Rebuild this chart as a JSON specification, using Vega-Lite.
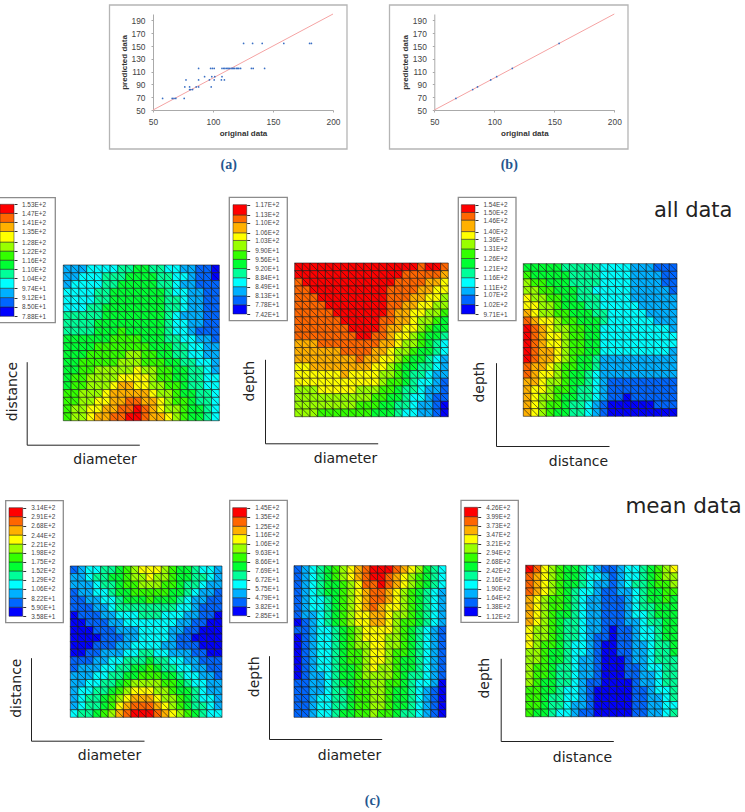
{"$schema":"https://vega.github.io/schema/vega-lite/v6.json","width":745,"height":812,"autosize":"none","padding":0,"background":"white","config":{"view":{"stroke":null},"axis":{"grid":false}},
"datasets":{
"p1":[{"x":0,"y":0,"v":3},{"x":1,"y":0,"v":3},{"x":2,"y":0,"v":3},{"x":3,"y":0,"v":4},{"x":4,"y":0,"v":4},{"x":5,"y":0,"v":4},{"x":6,"y":0,"v":4},{"x":7,"y":0,"v":5},{"x":8,"y":0,"v":5},{"x":9,"y":0,"v":6},{"x":10,"y":0,"v":6},{"x":11,"y":0,"v":5},{"x":12,"y":0,"v":5},{"x":13,"y":0,"v":4},{"x":14,"y":0,"v":4},{"x":15,"y":0,"v":3},{"x":16,"y":0,"v":3},{"x":17,"y":0,"v":2},{"x":18,"y":0,"v":2},{"x":19,"y":0,"v":1},
{"x":0,"y":1,"v":3},{"x":1,"y":1,"v":3},{"x":2,"y":1,"v":4},{"x":3,"y":1,"v":4},{"x":4,"y":1,"v":4},{"x":5,"y":1,"v":5},{"x":6,"y":1,"v":5},{"x":7,"y":1,"v":5},{"x":8,"y":1,"v":6},{"x":9,"y":1,"v":6},{"x":10,"y":1,"v":6},{"x":11,"y":1,"v":6},{"x":12,"y":1,"v":5},{"x":13,"y":1,"v":5},{"x":14,"y":1,"v":4},{"x":15,"y":1,"v":4},{"x":16,"y":1,"v":3},{"x":17,"y":1,"v":2},{"x":18,"y":1,"v":2},{"x":19,"y":1,"v":1},
{"x":0,"y":2,"v":3},{"x":1,"y":2,"v":4},{"x":2,"y":2,"v":4},{"x":3,"y":2,"v":4},{"x":4,"y":2,"v":4},{"x":5,"y":2,"v":5},{"x":6,"y":2,"v":5},{"x":7,"y":2,"v":6},{"x":8,"y":2,"v":6},{"x":9,"y":2,"v":6},{"x":10,"y":2,"v":6},{"x":11,"y":2,"v":6},{"x":12,"y":2,"v":5},{"x":13,"y":2,"v":5},{"x":14,"y":2,"v":4},{"x":15,"y":2,"v":3},{"x":16,"y":2,"v":3},{"x":17,"y":2,"v":2},{"x":18,"y":2,"v":2},{"x":19,"y":2,"v":2},
{"x":0,"y":3,"v":4},{"x":1,"y":3,"v":4},{"x":2,"y":3,"v":4},{"x":3,"y":3,"v":4},{"x":4,"y":3,"v":5},{"x":5,"y":3,"v":5},{"x":6,"y":3,"v":6},{"x":7,"y":3,"v":6},{"x":8,"y":3,"v":6},{"x":9,"y":3,"v":6},{"x":10,"y":3,"v":6},{"x":11,"y":3,"v":6},{"x":12,"y":3,"v":6},{"x":13,"y":3,"v":5},{"x":14,"y":3,"v":4},{"x":15,"y":3,"v":4},{"x":16,"y":3,"v":3},{"x":17,"y":3,"v":3},{"x":18,"y":3,"v":2},{"x":19,"y":3,"v":2},
{"x":0,"y":4,"v":4},{"x":1,"y":4,"v":4},{"x":2,"y":4,"v":4},{"x":3,"y":4,"v":4},{"x":4,"y":4,"v":5},{"x":5,"y":4,"v":5},{"x":6,"y":4,"v":6},{"x":7,"y":4,"v":6},{"x":8,"y":4,"v":6},{"x":9,"y":4,"v":6},{"x":10,"y":4,"v":6},{"x":11,"y":4,"v":6},{"x":12,"y":4,"v":6},{"x":13,"y":4,"v":5},{"x":14,"y":4,"v":5},{"x":15,"y":4,"v":4},{"x":16,"y":4,"v":3},{"x":17,"y":4,"v":3},{"x":18,"y":4,"v":2},{"x":19,"y":4,"v":2},
{"x":0,"y":5,"v":4},{"x":1,"y":5,"v":4},{"x":2,"y":5,"v":4},{"x":3,"y":5,"v":5},{"x":4,"y":5,"v":5},{"x":5,"y":5,"v":6},{"x":6,"y":5,"v":6},{"x":7,"y":5,"v":6},{"x":8,"y":5,"v":6},{"x":9,"y":5,"v":6},{"x":10,"y":5,"v":6},{"x":11,"y":5,"v":6},{"x":12,"y":5,"v":6},{"x":13,"y":5,"v":5},{"x":14,"y":5,"v":5},{"x":15,"y":5,"v":4},{"x":16,"y":5,"v":3},{"x":17,"y":5,"v":3},{"x":18,"y":5,"v":2},{"x":19,"y":5,"v":2},
{"x":0,"y":6,"v":5},{"x":1,"y":6,"v":5},{"x":2,"y":6,"v":5},{"x":3,"y":6,"v":5},{"x":4,"y":6,"v":5},{"x":5,"y":6,"v":6},{"x":6,"y":6,"v":6},{"x":7,"y":6,"v":6},{"x":8,"y":6,"v":6},{"x":9,"y":6,"v":6},{"x":10,"y":6,"v":6},{"x":11,"y":6,"v":6},{"x":12,"y":6,"v":6},{"x":13,"y":6,"v":5},{"x":14,"y":6,"v":4},{"x":15,"y":6,"v":3},{"x":16,"y":6,"v":3},{"x":17,"y":6,"v":3},{"x":18,"y":6,"v":2},{"x":19,"y":6,"v":2},
{"x":0,"y":7,"v":5},{"x":1,"y":7,"v":5},{"x":2,"y":7,"v":5},{"x":3,"y":7,"v":5},{"x":4,"y":7,"v":6},{"x":5,"y":7,"v":6},{"x":6,"y":7,"v":6},{"x":7,"y":7,"v":6},{"x":8,"y":7,"v":6},{"x":9,"y":7,"v":6},{"x":10,"y":7,"v":6},{"x":11,"y":7,"v":6},{"x":12,"y":7,"v":6},{"x":13,"y":7,"v":5},{"x":14,"y":7,"v":4},{"x":15,"y":7,"v":4},{"x":16,"y":7,"v":3},{"x":17,"y":7,"v":3},{"x":18,"y":7,"v":2},{"x":19,"y":7,"v":2},
{"x":0,"y":8,"v":5},{"x":1,"y":8,"v":5},{"x":2,"y":8,"v":5},{"x":3,"y":8,"v":5},{"x":4,"y":8,"v":6},{"x":5,"y":8,"v":6},{"x":6,"y":8,"v":6},{"x":7,"y":8,"v":7},{"x":8,"y":8,"v":6},{"x":9,"y":8,"v":6},{"x":10,"y":8,"v":6},{"x":11,"y":8,"v":6},{"x":12,"y":8,"v":6},{"x":13,"y":8,"v":5},{"x":14,"y":8,"v":4},{"x":15,"y":8,"v":4},{"x":16,"y":8,"v":3},{"x":17,"y":8,"v":2},{"x":18,"y":8,"v":2},{"x":19,"y":8,"v":2},
{"x":0,"y":9,"v":6},{"x":1,"y":9,"v":6},{"x":2,"y":9,"v":6},{"x":3,"y":9,"v":6},{"x":4,"y":9,"v":6},{"x":5,"y":9,"v":6},{"x":6,"y":9,"v":7},{"x":7,"y":9,"v":7},{"x":8,"y":9,"v":7},{"x":9,"y":9,"v":7},{"x":10,"y":9,"v":6},{"x":11,"y":9,"v":6},{"x":12,"y":9,"v":6},{"x":13,"y":9,"v":5},{"x":14,"y":9,"v":5},{"x":15,"y":9,"v":4},{"x":16,"y":9,"v":4},{"x":17,"y":9,"v":3},{"x":18,"y":9,"v":3},{"x":19,"y":9,"v":2},
{"x":0,"y":10,"v":6},{"x":1,"y":10,"v":6},{"x":2,"y":10,"v":6},{"x":3,"y":10,"v":6},{"x":4,"y":10,"v":7},{"x":5,"y":10,"v":7},{"x":6,"y":10,"v":7},{"x":7,"y":10,"v":7},{"x":8,"y":10,"v":7},{"x":9,"y":10,"v":7},{"x":10,"y":10,"v":7},{"x":11,"y":10,"v":6},{"x":12,"y":10,"v":6},{"x":13,"y":10,"v":6},{"x":14,"y":10,"v":5},{"x":15,"y":10,"v":5},{"x":16,"y":10,"v":4},{"x":17,"y":10,"v":4},{"x":18,"y":10,"v":3},{"x":19,"y":10,"v":3},
{"x":0,"y":11,"v":6},{"x":1,"y":11,"v":6},{"x":2,"y":11,"v":6},{"x":3,"y":11,"v":7},{"x":4,"y":11,"v":7},{"x":5,"y":11,"v":7},{"x":6,"y":11,"v":7},{"x":7,"y":11,"v":7},{"x":8,"y":11,"v":8},{"x":9,"y":11,"v":8},{"x":10,"y":11,"v":7},{"x":11,"y":11,"v":7},{"x":12,"y":11,"v":6},{"x":13,"y":11,"v":6},{"x":14,"y":11,"v":5},{"x":15,"y":11,"v":5},{"x":16,"y":11,"v":4},{"x":17,"y":11,"v":4},{"x":18,"y":11,"v":3},{"x":19,"y":11,"v":3},
{"x":0,"y":12,"v":6},{"x":1,"y":12,"v":6},{"x":2,"y":12,"v":7},{"x":3,"y":12,"v":7},{"x":4,"y":12,"v":7},{"x":5,"y":12,"v":7},{"x":6,"y":12,"v":7},{"x":7,"y":12,"v":8},{"x":8,"y":12,"v":8},{"x":9,"y":12,"v":8},{"x":10,"y":12,"v":7},{"x":11,"y":12,"v":7},{"x":12,"y":12,"v":7},{"x":13,"y":12,"v":6},{"x":14,"y":12,"v":6},{"x":15,"y":12,"v":5},{"x":16,"y":12,"v":5},{"x":17,"y":12,"v":4},{"x":18,"y":12,"v":4},{"x":19,"y":12,"v":3},
{"x":0,"y":13,"v":6},{"x":1,"y":13,"v":6},{"x":2,"y":13,"v":7},{"x":3,"y":13,"v":7},{"x":4,"y":13,"v":8},{"x":5,"y":13,"v":8},{"x":6,"y":13,"v":8},{"x":7,"y":13,"v":8},{"x":8,"y":13,"v":8},{"x":9,"y":13,"v":9},{"x":10,"y":13,"v":8},{"x":11,"y":13,"v":8},{"x":12,"y":13,"v":7},{"x":13,"y":13,"v":7},{"x":14,"y":13,"v":6},{"x":15,"y":13,"v":6},{"x":16,"y":13,"v":5},{"x":17,"y":13,"v":5},{"x":18,"y":13,"v":4},{"x":19,"y":13,"v":3},
{"x":0,"y":14,"v":6},{"x":1,"y":14,"v":7},{"x":2,"y":14,"v":7},{"x":3,"y":14,"v":8},{"x":4,"y":14,"v":8},{"x":5,"y":14,"v":8},{"x":6,"y":14,"v":8},{"x":7,"y":14,"v":9},{"x":8,"y":14,"v":9},{"x":9,"y":14,"v":9},{"x":10,"y":14,"v":9},{"x":11,"y":14,"v":8},{"x":12,"y":14,"v":7},{"x":13,"y":14,"v":7},{"x":14,"y":14,"v":6},{"x":15,"y":14,"v":6},{"x":16,"y":14,"v":5},{"x":17,"y":14,"v":5},{"x":18,"y":14,"v":4},{"x":19,"y":14,"v":4},
{"x":0,"y":15,"v":6},{"x":1,"y":15,"v":7},{"x":2,"y":15,"v":7},{"x":3,"y":15,"v":8},{"x":4,"y":15,"v":8},{"x":5,"y":15,"v":8},{"x":6,"y":15,"v":9},{"x":7,"y":15,"v":10},{"x":8,"y":15,"v":10},{"x":9,"y":15,"v":9},{"x":10,"y":15,"v":9},{"x":11,"y":15,"v":8},{"x":12,"y":15,"v":8},{"x":13,"y":15,"v":7},{"x":14,"y":15,"v":7},{"x":15,"y":15,"v":6},{"x":16,"y":15,"v":5},{"x":17,"y":15,"v":5},{"x":18,"y":15,"v":4},{"x":19,"y":15,"v":4},
{"x":0,"y":16,"v":7},{"x":1,"y":16,"v":7},{"x":2,"y":16,"v":8},{"x":3,"y":16,"v":8},{"x":4,"y":16,"v":8},{"x":5,"y":16,"v":9},{"x":6,"y":16,"v":10},{"x":7,"y":16,"v":10},{"x":8,"y":16,"v":10},{"x":9,"y":16,"v":10},{"x":10,"y":16,"v":10},{"x":11,"y":16,"v":9},{"x":12,"y":16,"v":8},{"x":13,"y":16,"v":8},{"x":14,"y":16,"v":7},{"x":15,"y":16,"v":6},{"x":16,"y":16,"v":6},{"x":17,"y":16,"v":5},{"x":18,"y":16,"v":5},{"x":19,"y":16,"v":4},
{"x":0,"y":17,"v":7},{"x":1,"y":17,"v":7},{"x":2,"y":17,"v":8},{"x":3,"y":17,"v":8},{"x":4,"y":17,"v":9},{"x":5,"y":17,"v":9},{"x":6,"y":17,"v":10},{"x":7,"y":17,"v":10},{"x":8,"y":17,"v":11},{"x":9,"y":17,"v":11},{"x":10,"y":17,"v":10},{"x":11,"y":17,"v":10},{"x":12,"y":17,"v":9},{"x":13,"y":17,"v":8},{"x":14,"y":17,"v":7},{"x":15,"y":17,"v":7},{"x":16,"y":17,"v":6},{"x":17,"y":17,"v":5},{"x":18,"y":17,"v":5},{"x":19,"y":17,"v":4},
{"x":0,"y":18,"v":7},{"x":1,"y":18,"v":8},{"x":2,"y":18,"v":8},{"x":3,"y":18,"v":9},{"x":4,"y":18,"v":9},{"x":5,"y":18,"v":10},{"x":6,"y":18,"v":10},{"x":7,"y":18,"v":11},{"x":8,"y":18,"v":11},{"x":9,"y":18,"v":12},{"x":10,"y":18,"v":11},{"x":11,"y":18,"v":10},{"x":12,"y":18,"v":9},{"x":13,"y":18,"v":8},{"x":14,"y":18,"v":8},{"x":15,"y":18,"v":7},{"x":16,"y":18,"v":6},{"x":17,"y":18,"v":6},{"x":18,"y":18,"v":5},{"x":19,"y":18,"v":4},
{"x":0,"y":19,"v":7},{"x":1,"y":19,"v":8},{"x":2,"y":19,"v":8},{"x":3,"y":19,"v":9},{"x":4,"y":19,"v":10},{"x":5,"y":19,"v":10},{"x":6,"y":19,"v":11},{"x":7,"y":19,"v":11},{"x":8,"y":19,"v":12},{"x":9,"y":19,"v":12},{"x":10,"y":19,"v":11},{"x":11,"y":19,"v":10},{"x":12,"y":19,"v":10},{"x":13,"y":19,"v":9},{"x":14,"y":19,"v":8},{"x":15,"y":19,"v":7},{"x":16,"y":19,"v":6},{"x":17,"y":19,"v":6},{"x":18,"y":19,"v":5},{"x":19,"y":19,"v":4}],
"p2":[{"x":0,"y":0,"v":12},{"x":1,"y":0,"v":12},{"x":2,"y":0,"v":12},{"x":3,"y":0,"v":12},{"x":4,"y":0,"v":12},{"x":5,"y":0,"v":12},{"x":6,"y":0,"v":12},{"x":7,"y":0,"v":12},{"x":8,"y":0,"v":12},{"x":9,"y":0,"v":12},{"x":10,"y":0,"v":12},{"x":11,"y":0,"v":12},{"x":12,"y":0,"v":12},{"x":13,"y":0,"v":12},{"x":14,"y":0,"v":12},{"x":15,"y":0,"v":12},{"x":16,"y":0,"v":11},{"x":17,"y":0,"v":12},{"x":18,"y":0,"v":12},{"x":19,"y":0,"v":11},
{"x":0,"y":1,"v":12},{"x":1,"y":1,"v":12},{"x":2,"y":1,"v":12},{"x":3,"y":1,"v":12},{"x":4,"y":1,"v":12},{"x":5,"y":1,"v":12},{"x":6,"y":1,"v":12},{"x":7,"y":1,"v":12},{"x":8,"y":1,"v":12},{"x":9,"y":1,"v":12},{"x":10,"y":1,"v":12},{"x":11,"y":1,"v":12},{"x":12,"y":1,"v":12},{"x":13,"y":1,"v":12},{"x":14,"y":1,"v":11},{"x":15,"y":1,"v":11},{"x":16,"y":1,"v":11},{"x":17,"y":1,"v":11},{"x":18,"y":1,"v":11},{"x":19,"y":1,"v":10},
{"x":0,"y":2,"v":11},{"x":1,"y":2,"v":12},{"x":2,"y":2,"v":12},{"x":3,"y":2,"v":12},{"x":4,"y":2,"v":12},{"x":5,"y":2,"v":12},{"x":6,"y":2,"v":12},{"x":7,"y":2,"v":12},{"x":8,"y":2,"v":12},{"x":9,"y":2,"v":12},{"x":10,"y":2,"v":12},{"x":11,"y":2,"v":12},{"x":12,"y":2,"v":12},{"x":13,"y":2,"v":11},{"x":14,"y":2,"v":11},{"x":15,"y":2,"v":11},{"x":16,"y":2,"v":11},{"x":17,"y":2,"v":10},{"x":18,"y":2,"v":10},{"x":19,"y":2,"v":9},
{"x":0,"y":3,"v":11},{"x":1,"y":3,"v":11},{"x":2,"y":3,"v":12},{"x":3,"y":3,"v":12},{"x":4,"y":3,"v":12},{"x":5,"y":3,"v":12},{"x":6,"y":3,"v":12},{"x":7,"y":3,"v":12},{"x":8,"y":3,"v":12},{"x":9,"y":3,"v":12},{"x":10,"y":3,"v":12},{"x":11,"y":3,"v":12},{"x":12,"y":3,"v":11},{"x":13,"y":3,"v":11},{"x":14,"y":3,"v":11},{"x":15,"y":3,"v":11},{"x":16,"y":3,"v":10},{"x":17,"y":3,"v":10},{"x":18,"y":3,"v":9},{"x":19,"y":3,"v":9},
{"x":0,"y":4,"v":11},{"x":1,"y":4,"v":11},{"x":2,"y":4,"v":11},{"x":3,"y":4,"v":12},{"x":4,"y":4,"v":12},{"x":5,"y":4,"v":12},{"x":6,"y":4,"v":12},{"x":7,"y":4,"v":12},{"x":8,"y":4,"v":12},{"x":9,"y":4,"v":12},{"x":10,"y":4,"v":12},{"x":11,"y":4,"v":12},{"x":12,"y":4,"v":11},{"x":13,"y":4,"v":11},{"x":14,"y":4,"v":11},{"x":15,"y":4,"v":10},{"x":16,"y":4,"v":10},{"x":17,"y":4,"v":9},{"x":18,"y":4,"v":9},{"x":19,"y":4,"v":8},
{"x":0,"y":5,"v":11},{"x":1,"y":5,"v":11},{"x":2,"y":5,"v":11},{"x":3,"y":5,"v":11},{"x":4,"y":5,"v":12},{"x":5,"y":5,"v":12},{"x":6,"y":5,"v":12},{"x":7,"y":5,"v":12},{"x":8,"y":5,"v":12},{"x":9,"y":5,"v":12},{"x":10,"y":5,"v":12},{"x":11,"y":5,"v":12},{"x":12,"y":5,"v":11},{"x":13,"y":5,"v":11},{"x":14,"y":5,"v":10},{"x":15,"y":5,"v":10},{"x":16,"y":5,"v":9},{"x":17,"y":5,"v":9},{"x":18,"y":5,"v":8},{"x":19,"y":5,"v":8},
{"x":0,"y":6,"v":11},{"x":1,"y":6,"v":11},{"x":2,"y":6,"v":11},{"x":3,"y":6,"v":11},{"x":4,"y":6,"v":11},{"x":5,"y":6,"v":12},{"x":6,"y":6,"v":12},{"x":7,"y":6,"v":12},{"x":8,"y":6,"v":12},{"x":9,"y":6,"v":12},{"x":10,"y":6,"v":12},{"x":11,"y":6,"v":12},{"x":12,"y":6,"v":11},{"x":13,"y":6,"v":10},{"x":14,"y":6,"v":10},{"x":15,"y":6,"v":9},{"x":16,"y":6,"v":9},{"x":17,"y":6,"v":8},{"x":18,"y":6,"v":8},{"x":19,"y":6,"v":7},
{"x":0,"y":7,"v":11},{"x":1,"y":7,"v":11},{"x":2,"y":7,"v":11},{"x":3,"y":7,"v":11},{"x":4,"y":7,"v":11},{"x":5,"y":7,"v":11},{"x":6,"y":7,"v":12},{"x":7,"y":7,"v":12},{"x":8,"y":7,"v":12},{"x":9,"y":7,"v":12},{"x":10,"y":7,"v":12},{"x":11,"y":7,"v":11},{"x":12,"y":7,"v":11},{"x":13,"y":7,"v":10},{"x":14,"y":7,"v":10},{"x":15,"y":7,"v":9},{"x":16,"y":7,"v":8},{"x":17,"y":7,"v":8},{"x":18,"y":7,"v":7},{"x":19,"y":7,"v":6},
{"x":0,"y":8,"v":11},{"x":1,"y":8,"v":11},{"x":2,"y":8,"v":11},{"x":3,"y":8,"v":11},{"x":4,"y":8,"v":11},{"x":5,"y":8,"v":11},{"x":6,"y":8,"v":11},{"x":7,"y":8,"v":12},{"x":8,"y":8,"v":12},{"x":9,"y":8,"v":12},{"x":10,"y":8,"v":12},{"x":11,"y":8,"v":11},{"x":12,"y":8,"v":10},{"x":13,"y":8,"v":10},{"x":14,"y":8,"v":9},{"x":15,"y":8,"v":9},{"x":16,"y":8,"v":8},{"x":17,"y":8,"v":7},{"x":18,"y":8,"v":6},{"x":19,"y":8,"v":6},
{"x":0,"y":9,"v":11},{"x":1,"y":9,"v":11},{"x":2,"y":9,"v":11},{"x":3,"y":9,"v":11},{"x":4,"y":9,"v":11},{"x":5,"y":9,"v":11},{"x":6,"y":9,"v":11},{"x":7,"y":9,"v":11},{"x":8,"y":9,"v":12},{"x":9,"y":9,"v":12},{"x":10,"y":9,"v":11},{"x":11,"y":9,"v":11},{"x":12,"y":9,"v":10},{"x":13,"y":9,"v":9},{"x":14,"y":9,"v":9},{"x":15,"y":9,"v":8},{"x":16,"y":9,"v":7},{"x":17,"y":9,"v":6},{"x":18,"y":9,"v":6},{"x":19,"y":9,"v":5},
{"x":0,"y":10,"v":10},{"x":1,"y":10,"v":10},{"x":2,"y":10,"v":10},{"x":3,"y":10,"v":11},{"x":4,"y":10,"v":11},{"x":5,"y":10,"v":11},{"x":6,"y":10,"v":11},{"x":7,"y":10,"v":11},{"x":8,"y":10,"v":11},{"x":9,"y":10,"v":11},{"x":10,"y":10,"v":11},{"x":11,"y":10,"v":10},{"x":12,"y":10,"v":10},{"x":13,"y":10,"v":9},{"x":14,"y":10,"v":8},{"x":15,"y":10,"v":8},{"x":16,"y":10,"v":7},{"x":17,"y":10,"v":6},{"x":18,"y":10,"v":5},{"x":19,"y":10,"v":4},
{"x":0,"y":11,"v":10},{"x":1,"y":11,"v":10},{"x":2,"y":11,"v":10},{"x":3,"y":11,"v":10},{"x":4,"y":11,"v":10},{"x":5,"y":11,"v":10},{"x":6,"y":11,"v":11},{"x":7,"y":11,"v":11},{"x":8,"y":11,"v":11},{"x":9,"y":11,"v":11},{"x":10,"y":11,"v":10},{"x":11,"y":11,"v":10},{"x":12,"y":11,"v":9},{"x":13,"y":11,"v":8},{"x":14,"y":11,"v":8},{"x":15,"y":11,"v":7},{"x":16,"y":11,"v":6},{"x":17,"y":11,"v":6},{"x":18,"y":11,"v":5},{"x":19,"y":11,"v":4},
{"x":0,"y":12,"v":10},{"x":1,"y":12,"v":10},{"x":2,"y":12,"v":10},{"x":3,"y":12,"v":10},{"x":4,"y":12,"v":10},{"x":5,"y":12,"v":10},{"x":6,"y":12,"v":10},{"x":7,"y":12,"v":10},{"x":8,"y":12,"v":11},{"x":9,"y":12,"v":10},{"x":10,"y":12,"v":10},{"x":11,"y":12,"v":9},{"x":12,"y":12,"v":9},{"x":13,"y":12,"v":8},{"x":14,"y":12,"v":7},{"x":15,"y":12,"v":6},{"x":16,"y":12,"v":6},{"x":17,"y":12,"v":5},{"x":18,"y":12,"v":4},{"x":19,"y":12,"v":3},
{"x":0,"y":13,"v":9},{"x":1,"y":13,"v":9},{"x":2,"y":13,"v":10},{"x":3,"y":13,"v":10},{"x":4,"y":13,"v":10},{"x":5,"y":13,"v":10},{"x":6,"y":13,"v":10},{"x":7,"y":13,"v":10},{"x":8,"y":13,"v":10},{"x":9,"y":13,"v":10},{"x":10,"y":13,"v":9},{"x":11,"y":13,"v":9},{"x":12,"y":13,"v":8},{"x":13,"y":13,"v":7},{"x":14,"y":13,"v":6},{"x":15,"y":13,"v":6},{"x":16,"y":13,"v":5},{"x":17,"y":13,"v":5},{"x":18,"y":13,"v":4},{"x":19,"y":13,"v":3},
{"x":0,"y":14,"v":9},{"x":1,"y":14,"v":9},{"x":2,"y":14,"v":9},{"x":3,"y":14,"v":9},{"x":4,"y":14,"v":9},{"x":5,"y":14,"v":9},{"x":6,"y":14,"v":10},{"x":7,"y":14,"v":9},{"x":8,"y":14,"v":9},{"x":9,"y":14,"v":9},{"x":10,"y":14,"v":9},{"x":11,"y":14,"v":8},{"x":12,"y":14,"v":8},{"x":13,"y":14,"v":7},{"x":14,"y":14,"v":6},{"x":15,"y":14,"v":5},{"x":16,"y":14,"v":5},{"x":17,"y":14,"v":4},{"x":18,"y":14,"v":3},{"x":19,"y":14,"v":3},
{"x":0,"y":15,"v":9},{"x":1,"y":15,"v":9},{"x":2,"y":15,"v":9},{"x":3,"y":15,"v":9},{"x":4,"y":15,"v":9},{"x":5,"y":15,"v":9},{"x":6,"y":15,"v":9},{"x":7,"y":15,"v":9},{"x":8,"y":15,"v":9},{"x":9,"y":15,"v":9},{"x":10,"y":15,"v":9},{"x":11,"y":15,"v":8},{"x":12,"y":15,"v":7},{"x":13,"y":15,"v":7},{"x":14,"y":15,"v":6},{"x":15,"y":15,"v":5},{"x":16,"y":15,"v":4},{"x":17,"y":15,"v":4},{"x":18,"y":15,"v":3},{"x":19,"y":15,"v":2},
{"x":0,"y":16,"v":8},{"x":1,"y":16,"v":8},{"x":2,"y":16,"v":8},{"x":3,"y":16,"v":9},{"x":4,"y":16,"v":9},{"x":5,"y":16,"v":9},{"x":6,"y":16,"v":9},{"x":7,"y":16,"v":9},{"x":8,"y":16,"v":8},{"x":9,"y":16,"v":8},{"x":10,"y":16,"v":8},{"x":11,"y":16,"v":7},{"x":12,"y":16,"v":7},{"x":13,"y":16,"v":6},{"x":14,"y":16,"v":5},{"x":15,"y":16,"v":5},{"x":16,"y":16,"v":4},{"x":17,"y":16,"v":3},{"x":18,"y":16,"v":3},{"x":19,"y":16,"v":2},
{"x":0,"y":17,"v":8},{"x":1,"y":17,"v":8},{"x":2,"y":17,"v":8},{"x":3,"y":17,"v":8},{"x":4,"y":17,"v":8},{"x":5,"y":17,"v":8},{"x":6,"y":17,"v":8},{"x":7,"y":17,"v":8},{"x":8,"y":17,"v":8},{"x":9,"y":17,"v":8},{"x":10,"y":17,"v":7},{"x":11,"y":17,"v":7},{"x":12,"y":17,"v":6},{"x":13,"y":17,"v":6},{"x":14,"y":17,"v":5},{"x":15,"y":17,"v":4},{"x":16,"y":17,"v":4},{"x":17,"y":17,"v":3},{"x":18,"y":17,"v":2},{"x":19,"y":17,"v":2},
{"x":0,"y":18,"v":8},{"x":1,"y":18,"v":8},{"x":2,"y":18,"v":8},{"x":3,"y":18,"v":8},{"x":4,"y":18,"v":8},{"x":5,"y":18,"v":8},{"x":6,"y":18,"v":8},{"x":7,"y":18,"v":8},{"x":8,"y":18,"v":7},{"x":9,"y":18,"v":7},{"x":10,"y":18,"v":7},{"x":11,"y":18,"v":6},{"x":12,"y":18,"v":6},{"x":13,"y":18,"v":5},{"x":14,"y":18,"v":5},{"x":15,"y":18,"v":4},{"x":16,"y":18,"v":3},{"x":17,"y":18,"v":3},{"x":18,"y":18,"v":2},{"x":19,"y":18,"v":1},
{"x":0,"y":19,"v":8},{"x":1,"y":19,"v":8},{"x":2,"y":19,"v":8},{"x":3,"y":19,"v":7},{"x":4,"y":19,"v":7},{"x":5,"y":19,"v":7},{"x":6,"y":19,"v":7},{"x":7,"y":19,"v":7},{"x":8,"y":19,"v":7},{"x":9,"y":19,"v":7},{"x":10,"y":19,"v":6},{"x":11,"y":19,"v":6},{"x":12,"y":19,"v":6},{"x":13,"y":19,"v":5},{"x":14,"y":19,"v":4},{"x":15,"y":19,"v":4},{"x":16,"y":19,"v":3},{"x":17,"y":19,"v":3},{"x":18,"y":19,"v":2},{"x":19,"y":19,"v":1}],
"p3":[{"x":0,"y":0,"v":6},{"x":1,"y":0,"v":6},{"x":2,"y":0,"v":6},{"x":3,"y":0,"v":6},{"x":4,"y":0,"v":6},{"x":5,"y":0,"v":5},{"x":6,"y":0,"v":5},{"x":7,"y":0,"v":5},{"x":8,"y":0,"v":5},{"x":9,"y":0,"v":5},{"x":10,"y":0,"v":4},{"x":11,"y":0,"v":4},{"x":12,"y":0,"v":4},{"x":13,"y":0,"v":4},{"x":14,"y":0,"v":3},{"x":15,"y":0,"v":3},{"x":16,"y":0,"v":3},{"x":17,"y":0,"v":2},{"x":18,"y":0,"v":2},{"x":19,"y":0,"v":2},
{"x":0,"y":1,"v":7},{"x":1,"y":1,"v":6},{"x":2,"y":1,"v":6},{"x":3,"y":1,"v":6},{"x":4,"y":1,"v":6},{"x":5,"y":1,"v":6},{"x":6,"y":1,"v":5},{"x":7,"y":1,"v":5},{"x":8,"y":1,"v":5},{"x":9,"y":1,"v":5},{"x":10,"y":1,"v":4},{"x":11,"y":1,"v":4},{"x":12,"y":1,"v":4},{"x":13,"y":1,"v":4},{"x":14,"y":1,"v":3},{"x":15,"y":1,"v":3},{"x":16,"y":1,"v":3},{"x":17,"y":1,"v":3},{"x":18,"y":1,"v":2},{"x":19,"y":1,"v":2},
{"x":0,"y":2,"v":8},{"x":1,"y":2,"v":7},{"x":2,"y":2,"v":7},{"x":3,"y":2,"v":6},{"x":4,"y":2,"v":6},{"x":5,"y":2,"v":6},{"x":6,"y":2,"v":5},{"x":7,"y":2,"v":5},{"x":8,"y":2,"v":5},{"x":9,"y":2,"v":5},{"x":10,"y":2,"v":4},{"x":11,"y":2,"v":4},{"x":12,"y":2,"v":4},{"x":13,"y":2,"v":4},{"x":14,"y":2,"v":3},{"x":15,"y":2,"v":3},{"x":16,"y":2,"v":3},{"x":17,"y":2,"v":3},{"x":18,"y":2,"v":2},{"x":19,"y":2,"v":2},
{"x":0,"y":3,"v":8},{"x":1,"y":3,"v":8},{"x":2,"y":3,"v":7},{"x":3,"y":3,"v":7},{"x":4,"y":3,"v":6},{"x":5,"y":3,"v":6},{"x":6,"y":3,"v":6},{"x":7,"y":3,"v":5},{"x":8,"y":3,"v":5},{"x":9,"y":3,"v":4},{"x":10,"y":3,"v":4},{"x":11,"y":3,"v":4},{"x":12,"y":3,"v":4},{"x":13,"y":3,"v":4},{"x":14,"y":3,"v":3},{"x":15,"y":3,"v":3},{"x":16,"y":3,"v":3},{"x":17,"y":3,"v":3},{"x":18,"y":3,"v":3},{"x":19,"y":3,"v":2},
{"x":0,"y":4,"v":9},{"x":1,"y":4,"v":8},{"x":2,"y":4,"v":8},{"x":3,"y":4,"v":7},{"x":4,"y":4,"v":7},{"x":5,"y":4,"v":6},{"x":6,"y":4,"v":6},{"x":7,"y":4,"v":5},{"x":8,"y":4,"v":5},{"x":9,"y":4,"v":5},{"x":10,"y":4,"v":4},{"x":11,"y":4,"v":4},{"x":12,"y":4,"v":4},{"x":13,"y":4,"v":4},{"x":14,"y":4,"v":3},{"x":15,"y":4,"v":3},{"x":16,"y":4,"v":3},{"x":17,"y":4,"v":3},{"x":18,"y":4,"v":3},{"x":19,"y":4,"v":3},
{"x":0,"y":5,"v":9},{"x":1,"y":5,"v":9},{"x":2,"y":5,"v":8},{"x":3,"y":5,"v":8},{"x":4,"y":5,"v":7},{"x":5,"y":5,"v":6},{"x":6,"y":5,"v":6},{"x":7,"y":5,"v":6},{"x":8,"y":5,"v":5},{"x":9,"y":5,"v":5},{"x":10,"y":5,"v":4},{"x":11,"y":5,"v":4},{"x":12,"y":5,"v":4},{"x":13,"y":5,"v":4},{"x":14,"y":5,"v":4},{"x":15,"y":5,"v":3},{"x":16,"y":5,"v":3},{"x":17,"y":5,"v":3},{"x":18,"y":5,"v":3},{"x":19,"y":5,"v":3},
{"x":0,"y":6,"v":10},{"x":1,"y":6,"v":9},{"x":2,"y":6,"v":8},{"x":3,"y":6,"v":8},{"x":4,"y":6,"v":7},{"x":5,"y":6,"v":7},{"x":6,"y":6,"v":6},{"x":7,"y":6,"v":6},{"x":8,"y":6,"v":6},{"x":9,"y":6,"v":5},{"x":10,"y":6,"v":5},{"x":11,"y":6,"v":4},{"x":12,"y":6,"v":4},{"x":13,"y":6,"v":4},{"x":14,"y":6,"v":4},{"x":15,"y":6,"v":4},{"x":16,"y":6,"v":3},{"x":17,"y":6,"v":3},{"x":18,"y":6,"v":3},{"x":19,"y":6,"v":3},
{"x":0,"y":7,"v":11},{"x":1,"y":7,"v":10},{"x":2,"y":7,"v":9},{"x":3,"y":7,"v":9},{"x":4,"y":7,"v":8},{"x":5,"y":7,"v":7},{"x":6,"y":7,"v":7},{"x":7,"y":7,"v":6},{"x":8,"y":7,"v":6},{"x":9,"y":7,"v":6},{"x":10,"y":7,"v":5},{"x":11,"y":7,"v":4},{"x":12,"y":7,"v":4},{"x":13,"y":7,"v":4},{"x":14,"y":7,"v":4},{"x":15,"y":7,"v":4},{"x":16,"y":7,"v":4},{"x":17,"y":7,"v":3},{"x":18,"y":7,"v":3},{"x":19,"y":7,"v":3},
{"x":0,"y":8,"v":12},{"x":1,"y":8,"v":11},{"x":2,"y":8,"v":10},{"x":3,"y":8,"v":9},{"x":4,"y":8,"v":8},{"x":5,"y":8,"v":8},{"x":6,"y":8,"v":7},{"x":7,"y":8,"v":7},{"x":8,"y":8,"v":6},{"x":9,"y":8,"v":6},{"x":10,"y":8,"v":4},{"x":11,"y":8,"v":4},{"x":12,"y":8,"v":4},{"x":13,"y":8,"v":4},{"x":14,"y":8,"v":4},{"x":15,"y":8,"v":4},{"x":16,"y":8,"v":4},{"x":17,"y":8,"v":4},{"x":18,"y":8,"v":4},{"x":19,"y":8,"v":3},
{"x":0,"y":9,"v":12},{"x":1,"y":9,"v":11},{"x":2,"y":9,"v":10},{"x":3,"y":9,"v":9},{"x":4,"y":9,"v":9},{"x":5,"y":9,"v":8},{"x":6,"y":9,"v":7},{"x":7,"y":9,"v":7},{"x":8,"y":9,"v":6},{"x":9,"y":9,"v":6},{"x":10,"y":9,"v":4},{"x":11,"y":9,"v":4},{"x":12,"y":9,"v":4},{"x":13,"y":9,"v":4},{"x":14,"y":9,"v":4},{"x":15,"y":9,"v":4},{"x":16,"y":9,"v":4},{"x":17,"y":9,"v":4},{"x":18,"y":9,"v":4},{"x":19,"y":9,"v":4},
{"x":0,"y":10,"v":12},{"x":1,"y":10,"v":11},{"x":2,"y":10,"v":10},{"x":3,"y":10,"v":9},{"x":4,"y":10,"v":9},{"x":5,"y":10,"v":8},{"x":6,"y":10,"v":7},{"x":7,"y":10,"v":7},{"x":8,"y":10,"v":6},{"x":9,"y":10,"v":6},{"x":10,"y":10,"v":4},{"x":11,"y":10,"v":4},{"x":12,"y":10,"v":4},{"x":13,"y":10,"v":4},{"x":14,"y":10,"v":4},{"x":15,"y":10,"v":4},{"x":16,"y":10,"v":4},{"x":17,"y":10,"v":4},{"x":18,"y":10,"v":4},{"x":19,"y":10,"v":4},
{"x":0,"y":11,"v":12},{"x":1,"y":11,"v":11},{"x":2,"y":11,"v":10},{"x":3,"y":11,"v":10},{"x":4,"y":11,"v":9},{"x":5,"y":11,"v":8},{"x":6,"y":11,"v":7},{"x":7,"y":11,"v":7},{"x":8,"y":11,"v":6},{"x":9,"y":11,"v":6},{"x":10,"y":11,"v":4},{"x":11,"y":11,"v":4},{"x":12,"y":11,"v":4},{"x":13,"y":11,"v":4},{"x":14,"y":11,"v":4},{"x":15,"y":11,"v":4},{"x":16,"y":11,"v":4},{"x":17,"y":11,"v":4},{"x":18,"y":11,"v":4},{"x":19,"y":11,"v":3},
{"x":0,"y":12,"v":12},{"x":1,"y":12,"v":11},{"x":2,"y":12,"v":10},{"x":3,"y":12,"v":10},{"x":4,"y":12,"v":9},{"x":5,"y":12,"v":8},{"x":6,"y":12,"v":7},{"x":7,"y":12,"v":6},{"x":8,"y":12,"v":6},{"x":9,"y":12,"v":5},{"x":10,"y":12,"v":3},{"x":11,"y":12,"v":3},{"x":12,"y":12,"v":3},{"x":13,"y":12,"v":3},{"x":14,"y":12,"v":3},{"x":15,"y":12,"v":3},{"x":16,"y":12,"v":3},{"x":17,"y":12,"v":3},{"x":18,"y":12,"v":3},{"x":19,"y":12,"v":3},
{"x":0,"y":13,"v":11},{"x":1,"y":13,"v":10},{"x":2,"y":13,"v":10},{"x":3,"y":13,"v":9},{"x":4,"y":13,"v":8},{"x":5,"y":13,"v":7},{"x":6,"y":13,"v":7},{"x":7,"y":13,"v":6},{"x":8,"y":13,"v":6},{"x":9,"y":13,"v":5},{"x":10,"y":13,"v":3},{"x":11,"y":13,"v":3},{"x":12,"y":13,"v":3},{"x":13,"y":13,"v":3},{"x":14,"y":13,"v":3},{"x":15,"y":13,"v":3},{"x":16,"y":13,"v":3},{"x":17,"y":13,"v":3},{"x":18,"y":13,"v":3},{"x":19,"y":13,"v":3},
{"x":0,"y":14,"v":11},{"x":1,"y":14,"v":10},{"x":2,"y":14,"v":9},{"x":3,"y":14,"v":9},{"x":4,"y":14,"v":8},{"x":5,"y":14,"v":7},{"x":6,"y":14,"v":6},{"x":7,"y":14,"v":6},{"x":8,"y":14,"v":5},{"x":9,"y":14,"v":4},{"x":10,"y":14,"v":3},{"x":11,"y":14,"v":3},{"x":12,"y":14,"v":3},{"x":13,"y":14,"v":3},{"x":14,"y":14,"v":3},{"x":15,"y":14,"v":3},{"x":16,"y":14,"v":3},{"x":17,"y":14,"v":3},{"x":18,"y":14,"v":3},{"x":19,"y":14,"v":3},
{"x":0,"y":15,"v":10},{"x":1,"y":15,"v":10},{"x":2,"y":15,"v":9},{"x":3,"y":15,"v":8},{"x":4,"y":15,"v":8},{"x":5,"y":15,"v":7},{"x":6,"y":15,"v":6},{"x":7,"y":15,"v":6},{"x":8,"y":15,"v":5},{"x":9,"y":15,"v":4},{"x":10,"y":15,"v":3},{"x":11,"y":15,"v":2},{"x":12,"y":15,"v":2},{"x":13,"y":15,"v":2},{"x":14,"y":15,"v":2},{"x":15,"y":15,"v":2},{"x":16,"y":15,"v":2},{"x":17,"y":15,"v":2},{"x":18,"y":15,"v":2},{"x":19,"y":15,"v":2},
{"x":0,"y":16,"v":10},{"x":1,"y":16,"v":9},{"x":2,"y":16,"v":9},{"x":3,"y":16,"v":8},{"x":4,"y":16,"v":7},{"x":5,"y":16,"v":7},{"x":6,"y":16,"v":6},{"x":7,"y":16,"v":5},{"x":8,"y":16,"v":5},{"x":9,"y":16,"v":4},{"x":10,"y":16,"v":3},{"x":11,"y":16,"v":2},{"x":12,"y":16,"v":2},{"x":13,"y":16,"v":2},{"x":14,"y":16,"v":2},{"x":15,"y":16,"v":2},{"x":16,"y":16,"v":2},{"x":17,"y":16,"v":2},{"x":18,"y":16,"v":2},{"x":19,"y":16,"v":2},
{"x":0,"y":17,"v":10},{"x":1,"y":17,"v":9},{"x":2,"y":17,"v":8},{"x":3,"y":17,"v":8},{"x":4,"y":17,"v":7},{"x":5,"y":17,"v":6},{"x":6,"y":17,"v":6},{"x":7,"y":17,"v":5},{"x":8,"y":17,"v":5},{"x":9,"y":17,"v":4},{"x":10,"y":17,"v":3},{"x":11,"y":17,"v":2},{"x":12,"y":17,"v":2},{"x":13,"y":17,"v":1},{"x":14,"y":17,"v":2},{"x":15,"y":17,"v":2},{"x":16,"y":17,"v":2},{"x":17,"y":17,"v":2},{"x":18,"y":17,"v":2},{"x":19,"y":17,"v":2},
{"x":0,"y":18,"v":10},{"x":1,"y":18,"v":9},{"x":2,"y":18,"v":8},{"x":3,"y":18,"v":7},{"x":4,"y":18,"v":7},{"x":5,"y":18,"v":6},{"x":6,"y":18,"v":5},{"x":7,"y":18,"v":5},{"x":8,"y":18,"v":4},{"x":9,"y":18,"v":3},{"x":10,"y":18,"v":2},{"x":11,"y":18,"v":1},{"x":12,"y":18,"v":1},{"x":13,"y":18,"v":1},{"x":14,"y":18,"v":1},{"x":15,"y":18,"v":1},{"x":16,"y":18,"v":1},{"x":17,"y":18,"v":2},{"x":18,"y":18,"v":2},{"x":19,"y":18,"v":2},
{"x":0,"y":19,"v":10},{"x":1,"y":19,"v":9},{"x":2,"y":19,"v":8},{"x":3,"y":19,"v":7},{"x":4,"y":19,"v":6},{"x":5,"y":19,"v":6},{"x":6,"y":19,"v":5},{"x":7,"y":19,"v":5},{"x":8,"y":19,"v":4},{"x":9,"y":19,"v":3},{"x":10,"y":19,"v":2},{"x":11,"y":19,"v":1},{"x":12,"y":19,"v":1},{"x":13,"y":19,"v":1},{"x":14,"y":19,"v":1},{"x":15,"y":19,"v":1},{"x":16,"y":19,"v":1},{"x":17,"y":19,"v":1},{"x":18,"y":19,"v":1},{"x":19,"y":19,"v":1}],
"p4":[{"x":0,"y":0,"v":2},{"x":1,"y":0,"v":3},{"x":2,"y":0,"v":4},{"x":3,"y":0,"v":4},{"x":4,"y":0,"v":5},{"x":5,"y":0,"v":5},{"x":6,"y":0,"v":6},{"x":7,"y":0,"v":7},{"x":8,"y":0,"v":8},{"x":9,"y":0,"v":9},{"x":10,"y":0,"v":9},{"x":11,"y":0,"v":9},{"x":12,"y":0,"v":8},{"x":13,"y":0,"v":7},{"x":14,"y":0,"v":6},{"x":15,"y":0,"v":6},{"x":16,"y":0,"v":5},{"x":17,"y":0,"v":4},{"x":18,"y":0,"v":4},{"x":19,"y":0,"v":3},
{"x":0,"y":1,"v":3},{"x":1,"y":1,"v":3},{"x":2,"y":1,"v":4},{"x":3,"y":1,"v":5},{"x":4,"y":1,"v":5},{"x":5,"y":1,"v":6},{"x":6,"y":1,"v":6},{"x":7,"y":1,"v":7},{"x":8,"y":1,"v":8},{"x":9,"y":1,"v":8},{"x":10,"y":1,"v":9},{"x":11,"y":1,"v":8},{"x":12,"y":1,"v":8},{"x":13,"y":1,"v":7},{"x":14,"y":1,"v":6},{"x":15,"y":1,"v":6},{"x":16,"y":1,"v":5},{"x":17,"y":1,"v":5},{"x":18,"y":1,"v":4},{"x":19,"y":1,"v":3},
{"x":0,"y":2,"v":3},{"x":1,"y":2,"v":3},{"x":2,"y":2,"v":3},{"x":3,"y":2,"v":4},{"x":4,"y":2,"v":5},{"x":5,"y":2,"v":5},{"x":6,"y":2,"v":6},{"x":7,"y":2,"v":7},{"x":8,"y":2,"v":7},{"x":9,"y":2,"v":8},{"x":10,"y":2,"v":8},{"x":11,"y":2,"v":8},{"x":12,"y":2,"v":7},{"x":13,"y":2,"v":7},{"x":14,"y":2,"v":6},{"x":15,"y":2,"v":5},{"x":16,"y":2,"v":5},{"x":17,"y":2,"v":4},{"x":18,"y":2,"v":3},{"x":19,"y":2,"v":3},
{"x":0,"y":3,"v":2},{"x":1,"y":3,"v":3},{"x":2,"y":3,"v":3},{"x":3,"y":3,"v":4},{"x":4,"y":3,"v":4},{"x":5,"y":3,"v":5},{"x":6,"y":3,"v":6},{"x":7,"y":3,"v":6},{"x":8,"y":3,"v":7},{"x":9,"y":3,"v":7},{"x":10,"y":3,"v":7},{"x":11,"y":3,"v":7},{"x":12,"y":3,"v":7},{"x":13,"y":3,"v":6},{"x":14,"y":3,"v":6},{"x":15,"y":3,"v":5},{"x":16,"y":3,"v":4},{"x":17,"y":3,"v":3},{"x":18,"y":3,"v":3},{"x":19,"y":3,"v":2},
{"x":0,"y":4,"v":2},{"x":1,"y":4,"v":2},{"x":2,"y":4,"v":3},{"x":3,"y":4,"v":3},{"x":4,"y":4,"v":4},{"x":5,"y":4,"v":4},{"x":6,"y":4,"v":5},{"x":7,"y":4,"v":6},{"x":8,"y":4,"v":6},{"x":9,"y":4,"v":6},{"x":10,"y":4,"v":7},{"x":11,"y":4,"v":6},{"x":12,"y":4,"v":6},{"x":13,"y":4,"v":6},{"x":14,"y":4,"v":5},{"x":15,"y":4,"v":4},{"x":16,"y":4,"v":3},{"x":17,"y":4,"v":3},{"x":18,"y":4,"v":2},{"x":19,"y":4,"v":2},
{"x":0,"y":5,"v":2},{"x":1,"y":5,"v":2},{"x":2,"y":5,"v":2},{"x":3,"y":5,"v":3},{"x":4,"y":5,"v":3},{"x":5,"y":5,"v":4},{"x":6,"y":5,"v":5},{"x":7,"y":5,"v":5},{"x":8,"y":5,"v":5},{"x":9,"y":5,"v":5},{"x":10,"y":5,"v":5},{"x":11,"y":5,"v":5},{"x":12,"y":5,"v":5},{"x":13,"y":5,"v":5},{"x":14,"y":5,"v":4},{"x":15,"y":5,"v":4},{"x":16,"y":5,"v":3},{"x":17,"y":5,"v":2},{"x":18,"y":5,"v":2},{"x":19,"y":5,"v":2},
{"x":0,"y":6,"v":1},{"x":1,"y":6,"v":2},{"x":2,"y":6,"v":2},{"x":3,"y":6,"v":2},{"x":4,"y":6,"v":3},{"x":5,"y":6,"v":3},{"x":6,"y":6,"v":4},{"x":7,"y":6,"v":4},{"x":8,"y":6,"v":4},{"x":9,"y":6,"v":5},{"x":10,"y":6,"v":5},{"x":11,"y":6,"v":5},{"x":12,"y":6,"v":4},{"x":13,"y":6,"v":4},{"x":14,"y":6,"v":4},{"x":15,"y":6,"v":3},{"x":16,"y":6,"v":3},{"x":17,"y":6,"v":2},{"x":18,"y":6,"v":2},{"x":19,"y":6,"v":1},
{"x":0,"y":7,"v":1},{"x":1,"y":7,"v":1},{"x":2,"y":7,"v":2},{"x":3,"y":7,"v":2},{"x":4,"y":7,"v":2},{"x":5,"y":7,"v":3},{"x":6,"y":7,"v":3},{"x":7,"y":7,"v":4},{"x":8,"y":7,"v":4},{"x":9,"y":7,"v":4},{"x":10,"y":7,"v":4},{"x":11,"y":7,"v":4},{"x":12,"y":7,"v":4},{"x":13,"y":7,"v":4},{"x":14,"y":7,"v":3},{"x":15,"y":7,"v":3},{"x":16,"y":7,"v":2},{"x":17,"y":7,"v":2},{"x":18,"y":7,"v":1},{"x":19,"y":7,"v":1},
{"x":0,"y":8,"v":1},{"x":1,"y":8,"v":1},{"x":2,"y":8,"v":1},{"x":3,"y":8,"v":2},{"x":4,"y":8,"v":2},{"x":5,"y":8,"v":2},{"x":6,"y":8,"v":3},{"x":7,"y":8,"v":3},{"x":8,"y":8,"v":3},{"x":9,"y":8,"v":4},{"x":10,"y":8,"v":4},{"x":11,"y":8,"v":4},{"x":12,"y":8,"v":4},{"x":13,"y":8,"v":3},{"x":14,"y":8,"v":3},{"x":15,"y":8,"v":2},{"x":16,"y":8,"v":2},{"x":17,"y":8,"v":1},{"x":18,"y":8,"v":1},{"x":19,"y":8,"v":1},
{"x":0,"y":9,"v":1},{"x":1,"y":9,"v":1},{"x":2,"y":9,"v":1},{"x":3,"y":9,"v":1},{"x":4,"y":9,"v":2},{"x":5,"y":9,"v":2},{"x":6,"y":9,"v":2},{"x":7,"y":9,"v":3},{"x":8,"y":9,"v":3},{"x":9,"y":9,"v":4},{"x":10,"y":9,"v":4},{"x":11,"y":9,"v":4},{"x":12,"y":9,"v":4},{"x":13,"y":9,"v":3},{"x":14,"y":9,"v":2},{"x":15,"y":9,"v":2},{"x":16,"y":9,"v":1},{"x":17,"y":9,"v":1},{"x":18,"y":9,"v":1},{"x":19,"y":9,"v":1},
{"x":0,"y":10,"v":1},{"x":1,"y":10,"v":1},{"x":2,"y":10,"v":1},{"x":3,"y":10,"v":2},{"x":4,"y":10,"v":2},{"x":5,"y":10,"v":2},{"x":6,"y":10,"v":3},{"x":7,"y":10,"v":3},{"x":8,"y":10,"v":4},{"x":9,"y":10,"v":4},{"x":10,"y":10,"v":4},{"x":11,"y":10,"v":4},{"x":12,"y":10,"v":3},{"x":13,"y":10,"v":3},{"x":14,"y":10,"v":2},{"x":15,"y":10,"v":2},{"x":16,"y":10,"v":2},{"x":17,"y":10,"v":1},{"x":18,"y":10,"v":1},{"x":19,"y":10,"v":1},
{"x":0,"y":11,"v":1},{"x":1,"y":11,"v":1},{"x":2,"y":11,"v":2},{"x":3,"y":11,"v":2},{"x":4,"y":11,"v":3},{"x":5,"y":11,"v":3},{"x":6,"y":11,"v":3},{"x":7,"y":11,"v":4},{"x":8,"y":11,"v":4},{"x":9,"y":11,"v":5},{"x":10,"y":11,"v":5},{"x":11,"y":11,"v":4},{"x":12,"y":11,"v":4},{"x":13,"y":11,"v":3},{"x":14,"y":11,"v":3},{"x":15,"y":11,"v":3},{"x":16,"y":11,"v":2},{"x":17,"y":11,"v":2},{"x":18,"y":11,"v":1},{"x":19,"y":11,"v":1},
{"x":0,"y":12,"v":2},{"x":1,"y":12,"v":2},{"x":2,"y":12,"v":2},{"x":3,"y":12,"v":3},{"x":4,"y":12,"v":3},{"x":5,"y":12,"v":4},{"x":6,"y":12,"v":4},{"x":7,"y":12,"v":5},{"x":8,"y":12,"v":5},{"x":9,"y":12,"v":5},{"x":10,"y":12,"v":6},{"x":11,"y":12,"v":5},{"x":12,"y":12,"v":5},{"x":13,"y":12,"v":4},{"x":14,"y":12,"v":4},{"x":15,"y":12,"v":3},{"x":16,"y":12,"v":3},{"x":17,"y":12,"v":2},{"x":18,"y":12,"v":2},{"x":19,"y":12,"v":2},
{"x":0,"y":13,"v":2},{"x":1,"y":13,"v":3},{"x":2,"y":13,"v":3},{"x":3,"y":13,"v":3},{"x":4,"y":13,"v":4},{"x":5,"y":13,"v":4},{"x":6,"y":13,"v":5},{"x":7,"y":13,"v":5},{"x":8,"y":13,"v":6},{"x":9,"y":13,"v":6},{"x":10,"y":13,"v":7},{"x":11,"y":13,"v":6},{"x":12,"y":13,"v":5},{"x":13,"y":13,"v":5},{"x":14,"y":13,"v":4},{"x":15,"y":13,"v":4},{"x":16,"y":13,"v":3},{"x":17,"y":13,"v":3},{"x":18,"y":13,"v":2},{"x":19,"y":13,"v":2},
{"x":0,"y":14,"v":3},{"x":1,"y":14,"v":3},{"x":2,"y":14,"v":3},{"x":3,"y":14,"v":4},{"x":4,"y":14,"v":4},{"x":5,"y":14,"v":5},{"x":6,"y":14,"v":5},{"x":7,"y":14,"v":6},{"x":8,"y":14,"v":6},{"x":9,"y":14,"v":7},{"x":10,"y":14,"v":7},{"x":11,"y":14,"v":7},{"x":12,"y":14,"v":6},{"x":13,"y":14,"v":6},{"x":14,"y":14,"v":5},{"x":15,"y":14,"v":4},{"x":16,"y":14,"v":4},{"x":17,"y":14,"v":3},{"x":18,"y":14,"v":3},{"x":19,"y":14,"v":2},
{"x":0,"y":15,"v":3},{"x":1,"y":15,"v":3},{"x":2,"y":15,"v":4},{"x":3,"y":15,"v":4},{"x":4,"y":15,"v":5},{"x":5,"y":15,"v":5},{"x":6,"y":15,"v":6},{"x":7,"y":15,"v":7},{"x":8,"y":15,"v":8},{"x":9,"y":15,"v":8},{"x":10,"y":15,"v":8},{"x":11,"y":15,"v":8},{"x":12,"y":15,"v":7},{"x":13,"y":15,"v":7},{"x":14,"y":15,"v":6},{"x":15,"y":15,"v":5},{"x":16,"y":15,"v":4},{"x":17,"y":15,"v":4},{"x":18,"y":15,"v":3},{"x":19,"y":15,"v":3},
{"x":0,"y":16,"v":3},{"x":1,"y":16,"v":4},{"x":2,"y":16,"v":4},{"x":3,"y":16,"v":5},{"x":4,"y":16,"v":5},{"x":5,"y":16,"v":6},{"x":6,"y":16,"v":7},{"x":7,"y":16,"v":8},{"x":8,"y":16,"v":9},{"x":9,"y":16,"v":9},{"x":10,"y":16,"v":9},{"x":11,"y":16,"v":8},{"x":12,"y":16,"v":8},{"x":13,"y":16,"v":7},{"x":14,"y":16,"v":6},{"x":15,"y":16,"v":6},{"x":16,"y":16,"v":5},{"x":17,"y":16,"v":4},{"x":18,"y":16,"v":3},{"x":19,"y":16,"v":3},
{"x":0,"y":17,"v":3},{"x":1,"y":17,"v":4},{"x":2,"y":17,"v":5},{"x":3,"y":17,"v":5},{"x":4,"y":17,"v":6},{"x":5,"y":17,"v":7},{"x":6,"y":17,"v":8},{"x":7,"y":17,"v":9},{"x":8,"y":17,"v":10},{"x":9,"y":17,"v":10},{"x":10,"y":17,"v":10},{"x":11,"y":17,"v":9},{"x":12,"y":17,"v":8},{"x":13,"y":17,"v":8},{"x":14,"y":17,"v":7},{"x":15,"y":17,"v":6},{"x":16,"y":17,"v":5},{"x":17,"y":17,"v":4},{"x":18,"y":17,"v":4},{"x":19,"y":17,"v":3},
{"x":0,"y":18,"v":3},{"x":1,"y":18,"v":4},{"x":2,"y":18,"v":5},{"x":3,"y":18,"v":5},{"x":4,"y":18,"v":6},{"x":5,"y":18,"v":7},{"x":6,"y":18,"v":9},{"x":7,"y":18,"v":10},{"x":8,"y":18,"v":11},{"x":9,"y":18,"v":11},{"x":10,"y":18,"v":11},{"x":11,"y":18,"v":10},{"x":12,"y":18,"v":9},{"x":13,"y":18,"v":8},{"x":14,"y":18,"v":7},{"x":15,"y":18,"v":6},{"x":16,"y":18,"v":5},{"x":17,"y":18,"v":5},{"x":18,"y":18,"v":4},{"x":19,"y":18,"v":3},
{"x":0,"y":19,"v":4},{"x":1,"y":19,"v":5},{"x":2,"y":19,"v":5},{"x":3,"y":19,"v":6},{"x":4,"y":19,"v":7},{"x":5,"y":19,"v":8},{"x":6,"y":19,"v":10},{"x":7,"y":19,"v":11},{"x":8,"y":19,"v":12},{"x":9,"y":19,"v":12},{"x":10,"y":19,"v":12},{"x":11,"y":19,"v":11},{"x":12,"y":19,"v":10},{"x":13,"y":19,"v":9},{"x":14,"y":19,"v":8},{"x":15,"y":19,"v":7},{"x":16,"y":19,"v":6},{"x":17,"y":19,"v":5},{"x":18,"y":19,"v":4},{"x":19,"y":19,"v":4}],
"p5":[{"x":0,"y":0,"v":2},{"x":1,"y":0,"v":3},{"x":2,"y":0,"v":4},{"x":3,"y":0,"v":5},{"x":4,"y":0,"v":6},{"x":5,"y":0,"v":7},{"x":6,"y":0,"v":8},{"x":7,"y":0,"v":9},{"x":8,"y":0,"v":10},{"x":9,"y":0,"v":11},{"x":10,"y":0,"v":12},{"x":11,"y":0,"v":12},{"x":12,"y":0,"v":12},{"x":13,"y":0,"v":11},{"x":14,"y":0,"v":10},{"x":15,"y":0,"v":9},{"x":16,"y":0,"v":8},{"x":17,"y":0,"v":6},{"x":18,"y":0,"v":5},{"x":19,"y":0,"v":4},
{"x":0,"y":1,"v":2},{"x":1,"y":1,"v":3},{"x":2,"y":1,"v":4},{"x":3,"y":1,"v":5},{"x":4,"y":1,"v":6},{"x":5,"y":1,"v":7},{"x":6,"y":1,"v":8},{"x":7,"y":1,"v":9},{"x":8,"y":1,"v":10},{"x":9,"y":1,"v":11},{"x":10,"y":1,"v":12},{"x":11,"y":1,"v":12},{"x":12,"y":1,"v":11},{"x":13,"y":1,"v":10},{"x":14,"y":1,"v":9},{"x":15,"y":1,"v":8},{"x":16,"y":1,"v":7},{"x":17,"y":1,"v":6},{"x":18,"y":1,"v":5},{"x":19,"y":1,"v":4},
{"x":0,"y":2,"v":2},{"x":1,"y":2,"v":3},{"x":2,"y":2,"v":4},{"x":3,"y":2,"v":5},{"x":4,"y":2,"v":6},{"x":5,"y":2,"v":6},{"x":6,"y":2,"v":7},{"x":7,"y":2,"v":8},{"x":8,"y":2,"v":9},{"x":9,"y":2,"v":11},{"x":10,"y":2,"v":11},{"x":11,"y":2,"v":12},{"x":12,"y":2,"v":11},{"x":13,"y":2,"v":10},{"x":14,"y":2,"v":9},{"x":15,"y":2,"v":8},{"x":16,"y":2,"v":7},{"x":17,"y":2,"v":6},{"x":18,"y":2,"v":5},{"x":19,"y":2,"v":4},
{"x":0,"y":3,"v":2},{"x":1,"y":3,"v":3},{"x":2,"y":3,"v":4},{"x":3,"y":3,"v":5},{"x":4,"y":3,"v":6},{"x":5,"y":3,"v":6},{"x":6,"y":3,"v":7},{"x":7,"y":3,"v":8},{"x":8,"y":3,"v":9},{"x":9,"y":3,"v":10},{"x":10,"y":3,"v":11},{"x":11,"y":3,"v":11},{"x":12,"y":3,"v":10},{"x":13,"y":3,"v":9},{"x":14,"y":3,"v":8},{"x":15,"y":3,"v":7},{"x":16,"y":3,"v":6},{"x":17,"y":3,"v":5},{"x":18,"y":3,"v":4},{"x":19,"y":3,"v":3},
{"x":0,"y":4,"v":2},{"x":1,"y":4,"v":3},{"x":2,"y":4,"v":4},{"x":3,"y":4,"v":4},{"x":4,"y":4,"v":5},{"x":5,"y":4,"v":6},{"x":6,"y":4,"v":7},{"x":7,"y":4,"v":8},{"x":8,"y":4,"v":9},{"x":9,"y":4,"v":10},{"x":10,"y":4,"v":11},{"x":11,"y":4,"v":11},{"x":12,"y":4,"v":10},{"x":13,"y":4,"v":9},{"x":14,"y":4,"v":8},{"x":15,"y":4,"v":7},{"x":16,"y":4,"v":6},{"x":17,"y":4,"v":5},{"x":18,"y":4,"v":4},{"x":19,"y":4,"v":3},
{"x":0,"y":5,"v":2},{"x":1,"y":5,"v":3},{"x":2,"y":5,"v":4},{"x":3,"y":5,"v":4},{"x":4,"y":5,"v":5},{"x":5,"y":5,"v":6},{"x":6,"y":5,"v":7},{"x":7,"y":5,"v":8},{"x":8,"y":5,"v":9},{"x":9,"y":5,"v":10},{"x":10,"y":5,"v":11},{"x":11,"y":5,"v":10},{"x":12,"y":5,"v":9},{"x":13,"y":5,"v":9},{"x":14,"y":5,"v":8},{"x":15,"y":5,"v":7},{"x":16,"y":5,"v":6},{"x":17,"y":5,"v":5},{"x":18,"y":5,"v":4},{"x":19,"y":5,"v":3},
{"x":0,"y":6,"v":2},{"x":1,"y":6,"v":3},{"x":2,"y":6,"v":3},{"x":3,"y":6,"v":4},{"x":4,"y":6,"v":5},{"x":5,"y":6,"v":6},{"x":6,"y":6,"v":7},{"x":7,"y":6,"v":8},{"x":8,"y":6,"v":9},{"x":9,"y":6,"v":9},{"x":10,"y":6,"v":10},{"x":11,"y":6,"v":10},{"x":12,"y":6,"v":9},{"x":13,"y":6,"v":8},{"x":14,"y":6,"v":8},{"x":15,"y":6,"v":7},{"x":16,"y":6,"v":6},{"x":17,"y":6,"v":5},{"x":18,"y":6,"v":4},{"x":19,"y":6,"v":3},
{"x":0,"y":7,"v":1},{"x":1,"y":7,"v":2},{"x":2,"y":7,"v":3},{"x":3,"y":7,"v":4},{"x":4,"y":7,"v":5},{"x":5,"y":7,"v":6},{"x":6,"y":7,"v":7},{"x":7,"y":7,"v":8},{"x":8,"y":7,"v":9},{"x":9,"y":7,"v":9},{"x":10,"y":7,"v":10},{"x":11,"y":7,"v":10},{"x":12,"y":7,"v":9},{"x":13,"y":7,"v":8},{"x":14,"y":7,"v":7},{"x":15,"y":7,"v":7},{"x":16,"y":7,"v":6},{"x":17,"y":7,"v":5},{"x":18,"y":7,"v":4},{"x":19,"y":7,"v":3},
{"x":0,"y":8,"v":2},{"x":1,"y":8,"v":2},{"x":2,"y":8,"v":3},{"x":3,"y":8,"v":4},{"x":4,"y":8,"v":4},{"x":5,"y":8,"v":5},{"x":6,"y":8,"v":6},{"x":7,"y":8,"v":7},{"x":8,"y":8,"v":8},{"x":9,"y":8,"v":9},{"x":10,"y":8,"v":9},{"x":11,"y":8,"v":9},{"x":12,"y":8,"v":9},{"x":13,"y":8,"v":8},{"x":14,"y":8,"v":7},{"x":15,"y":8,"v":6},{"x":16,"y":8,"v":5},{"x":17,"y":8,"v":4},{"x":18,"y":8,"v":3},{"x":19,"y":8,"v":2},
{"x":0,"y":9,"v":1},{"x":1,"y":9,"v":2},{"x":2,"y":9,"v":3},{"x":3,"y":9,"v":4},{"x":4,"y":9,"v":4},{"x":5,"y":9,"v":5},{"x":6,"y":9,"v":6},{"x":7,"y":9,"v":7},{"x":8,"y":9,"v":8},{"x":9,"y":9,"v":9},{"x":10,"y":9,"v":9},{"x":11,"y":9,"v":9},{"x":12,"y":9,"v":8},{"x":13,"y":9,"v":8},{"x":14,"y":9,"v":7},{"x":15,"y":9,"v":6},{"x":16,"y":9,"v":5},{"x":17,"y":9,"v":4},{"x":18,"y":9,"v":3},{"x":19,"y":9,"v":2},
{"x":0,"y":10,"v":1},{"x":1,"y":10,"v":2},{"x":2,"y":10,"v":3},{"x":3,"y":10,"v":4},{"x":4,"y":10,"v":4},{"x":5,"y":10,"v":5},{"x":6,"y":10,"v":6},{"x":7,"y":10,"v":7},{"x":8,"y":10,"v":8},{"x":9,"y":10,"v":8},{"x":10,"y":10,"v":9},{"x":11,"y":10,"v":9},{"x":12,"y":10,"v":8},{"x":13,"y":10,"v":8},{"x":14,"y":10,"v":7},{"x":15,"y":10,"v":6},{"x":16,"y":10,"v":5},{"x":17,"y":10,"v":4},{"x":18,"y":10,"v":3},{"x":19,"y":10,"v":2},
{"x":0,"y":11,"v":1},{"x":1,"y":11,"v":2},{"x":2,"y":11,"v":3},{"x":3,"y":11,"v":4},{"x":4,"y":11,"v":4},{"x":5,"y":11,"v":5},{"x":6,"y":11,"v":6},{"x":7,"y":11,"v":7},{"x":8,"y":11,"v":7},{"x":9,"y":11,"v":8},{"x":10,"y":11,"v":9},{"x":11,"y":11,"v":9},{"x":12,"y":11,"v":8},{"x":13,"y":11,"v":7},{"x":14,"y":11,"v":7},{"x":15,"y":11,"v":6},{"x":16,"y":11,"v":5},{"x":17,"y":11,"v":4},{"x":18,"y":11,"v":3},{"x":19,"y":11,"v":2},
{"x":0,"y":12,"v":1},{"x":1,"y":12,"v":2},{"x":2,"y":12,"v":3},{"x":3,"y":12,"v":4},{"x":4,"y":12,"v":4},{"x":5,"y":12,"v":5},{"x":6,"y":12,"v":6},{"x":7,"y":12,"v":7},{"x":8,"y":12,"v":7},{"x":9,"y":12,"v":8},{"x":10,"y":12,"v":9},{"x":11,"y":12,"v":9},{"x":12,"y":12,"v":8},{"x":13,"y":12,"v":7},{"x":14,"y":12,"v":6},{"x":15,"y":12,"v":6},{"x":16,"y":12,"v":5},{"x":17,"y":12,"v":4},{"x":18,"y":12,"v":3},{"x":19,"y":12,"v":2},
{"x":0,"y":13,"v":1},{"x":1,"y":13,"v":2},{"x":2,"y":13,"v":3},{"x":3,"y":13,"v":4},{"x":4,"y":13,"v":4},{"x":5,"y":13,"v":5},{"x":6,"y":13,"v":6},{"x":7,"y":13,"v":6},{"x":8,"y":13,"v":7},{"x":9,"y":13,"v":8},{"x":10,"y":13,"v":9},{"x":11,"y":13,"v":8},{"x":12,"y":13,"v":8},{"x":13,"y":13,"v":7},{"x":14,"y":13,"v":6},{"x":15,"y":13,"v":6},{"x":16,"y":13,"v":5},{"x":17,"y":13,"v":4},{"x":18,"y":13,"v":3},{"x":19,"y":13,"v":2},
{"x":0,"y":14,"v":1},{"x":1,"y":14,"v":2},{"x":2,"y":14,"v":3},{"x":3,"y":14,"v":3},{"x":4,"y":14,"v":4},{"x":5,"y":14,"v":5},{"x":6,"y":14,"v":6},{"x":7,"y":14,"v":6},{"x":8,"y":14,"v":7},{"x":9,"y":14,"v":8},{"x":10,"y":14,"v":8},{"x":11,"y":14,"v":8},{"x":12,"y":14,"v":8},{"x":13,"y":14,"v":7},{"x":14,"y":14,"v":6},{"x":15,"y":14,"v":5},{"x":16,"y":14,"v":5},{"x":17,"y":14,"v":4},{"x":18,"y":14,"v":3},{"x":19,"y":14,"v":2},
{"x":0,"y":15,"v":2},{"x":1,"y":15,"v":2},{"x":2,"y":15,"v":3},{"x":3,"y":15,"v":3},{"x":4,"y":15,"v":4},{"x":5,"y":15,"v":5},{"x":6,"y":15,"v":6},{"x":7,"y":15,"v":6},{"x":8,"y":15,"v":7},{"x":9,"y":15,"v":7},{"x":10,"y":15,"v":8},{"x":11,"y":15,"v":8},{"x":12,"y":15,"v":7},{"x":13,"y":15,"v":7},{"x":14,"y":15,"v":6},{"x":15,"y":15,"v":5},{"x":16,"y":15,"v":4},{"x":17,"y":15,"v":4},{"x":18,"y":15,"v":3},{"x":19,"y":15,"v":1},
{"x":0,"y":16,"v":2},{"x":1,"y":16,"v":2},{"x":2,"y":16,"v":3},{"x":3,"y":16,"v":3},{"x":4,"y":16,"v":4},{"x":5,"y":16,"v":5},{"x":6,"y":16,"v":5},{"x":7,"y":16,"v":6},{"x":8,"y":16,"v":7},{"x":9,"y":16,"v":7},{"x":10,"y":16,"v":8},{"x":11,"y":16,"v":8},{"x":12,"y":16,"v":7},{"x":13,"y":16,"v":6},{"x":14,"y":16,"v":6},{"x":15,"y":16,"v":5},{"x":16,"y":16,"v":4},{"x":17,"y":16,"v":3},{"x":18,"y":16,"v":2},{"x":19,"y":16,"v":1},
{"x":0,"y":17,"v":2},{"x":1,"y":17,"v":2},{"x":2,"y":17,"v":3},{"x":3,"y":17,"v":4},{"x":4,"y":17,"v":4},{"x":5,"y":17,"v":5},{"x":6,"y":17,"v":5},{"x":7,"y":17,"v":6},{"x":8,"y":17,"v":7},{"x":9,"y":17,"v":7},{"x":10,"y":17,"v":8},{"x":11,"y":17,"v":8},{"x":12,"y":17,"v":7},{"x":13,"y":17,"v":6},{"x":14,"y":17,"v":6},{"x":15,"y":17,"v":5},{"x":16,"y":17,"v":4},{"x":17,"y":17,"v":3},{"x":18,"y":17,"v":2},{"x":19,"y":17,"v":1},
{"x":0,"y":18,"v":2},{"x":1,"y":18,"v":2},{"x":2,"y":18,"v":3},{"x":3,"y":18,"v":4},{"x":4,"y":18,"v":4},{"x":5,"y":18,"v":5},{"x":6,"y":18,"v":5},{"x":7,"y":18,"v":6},{"x":8,"y":18,"v":7},{"x":9,"y":18,"v":7},{"x":10,"y":18,"v":8},{"x":11,"y":18,"v":8},{"x":12,"y":18,"v":7},{"x":13,"y":18,"v":6},{"x":14,"y":18,"v":6},{"x":15,"y":18,"v":5},{"x":16,"y":18,"v":4},{"x":17,"y":18,"v":3},{"x":18,"y":18,"v":2},{"x":19,"y":18,"v":1},
{"x":0,"y":19,"v":2},{"x":1,"y":19,"v":2},{"x":2,"y":19,"v":3},{"x":3,"y":19,"v":4},{"x":4,"y":19,"v":4},{"x":5,"y":19,"v":5},{"x":6,"y":19,"v":6},{"x":7,"y":19,"v":6},{"x":8,"y":19,"v":7},{"x":9,"y":19,"v":7},{"x":10,"y":19,"v":8},{"x":11,"y":19,"v":7},{"x":12,"y":19,"v":7},{"x":13,"y":19,"v":6},{"x":14,"y":19,"v":5},{"x":15,"y":19,"v":5},{"x":16,"y":19,"v":4},{"x":17,"y":19,"v":3},{"x":18,"y":19,"v":2},{"x":19,"y":19,"v":1}],
"p6":[{"x":0,"y":0,"v":12},{"x":1,"y":0,"v":11},{"x":2,"y":0,"v":9},{"x":3,"y":0,"v":8},{"x":4,"y":0,"v":7},{"x":5,"y":0,"v":6},{"x":6,"y":0,"v":6},{"x":7,"y":0,"v":5},{"x":8,"y":0,"v":4},{"x":9,"y":0,"v":3},{"x":10,"y":0,"v":2},{"x":11,"y":0,"v":2},{"x":12,"y":0,"v":3},{"x":13,"y":0,"v":4},{"x":14,"y":0,"v":4},{"x":15,"y":0,"v":5},{"x":16,"y":0,"v":6},{"x":17,"y":0,"v":7},{"x":18,"y":0,"v":8},{"x":19,"y":0,"v":9},
{"x":0,"y":1,"v":11},{"x":1,"y":1,"v":10},{"x":2,"y":1,"v":9},{"x":3,"y":1,"v":8},{"x":4,"y":1,"v":7},{"x":5,"y":1,"v":6},{"x":6,"y":1,"v":6},{"x":7,"y":1,"v":5},{"x":8,"y":1,"v":4},{"x":9,"y":1,"v":4},{"x":10,"y":1,"v":3},{"x":11,"y":1,"v":2},{"x":12,"y":1,"v":3},{"x":13,"y":1,"v":4},{"x":14,"y":1,"v":4},{"x":15,"y":1,"v":5},{"x":16,"y":1,"v":6},{"x":17,"y":1,"v":7},{"x":18,"y":1,"v":8},{"x":19,"y":1,"v":8},
{"x":0,"y":2,"v":11},{"x":1,"y":2,"v":10},{"x":2,"y":2,"v":9},{"x":3,"y":2,"v":8},{"x":4,"y":2,"v":7},{"x":5,"y":2,"v":6},{"x":6,"y":2,"v":6},{"x":7,"y":2,"v":5},{"x":8,"y":2,"v":4},{"x":9,"y":2,"v":3},{"x":10,"y":2,"v":3},{"x":11,"y":2,"v":2},{"x":12,"y":2,"v":3},{"x":13,"y":2,"v":4},{"x":14,"y":2,"v":5},{"x":15,"y":2,"v":5},{"x":16,"y":2,"v":6},{"x":17,"y":2,"v":7},{"x":18,"y":2,"v":7},{"x":19,"y":2,"v":8},
{"x":0,"y":3,"v":11},{"x":1,"y":3,"v":10},{"x":2,"y":3,"v":9},{"x":3,"y":3,"v":8},{"x":4,"y":3,"v":7},{"x":5,"y":3,"v":6},{"x":6,"y":3,"v":5},{"x":7,"y":3,"v":4},{"x":8,"y":3,"v":4},{"x":9,"y":3,"v":3},{"x":10,"y":3,"v":2},{"x":11,"y":3,"v":2},{"x":12,"y":3,"v":3},{"x":13,"y":3,"v":3},{"x":14,"y":3,"v":4},{"x":15,"y":3,"v":5},{"x":16,"y":3,"v":6},{"x":17,"y":3,"v":6},{"x":18,"y":3,"v":7},{"x":19,"y":3,"v":7},
{"x":0,"y":4,"v":10},{"x":1,"y":4,"v":9},{"x":2,"y":4,"v":8},{"x":3,"y":4,"v":7},{"x":4,"y":4,"v":7},{"x":5,"y":4,"v":6},{"x":6,"y":4,"v":5},{"x":7,"y":4,"v":4},{"x":8,"y":4,"v":3},{"x":9,"y":4,"v":3},{"x":10,"y":4,"v":2},{"x":11,"y":4,"v":2},{"x":12,"y":4,"v":2},{"x":13,"y":4,"v":3},{"x":14,"y":4,"v":4},{"x":15,"y":4,"v":5},{"x":16,"y":4,"v":6},{"x":17,"y":4,"v":6},{"x":18,"y":4,"v":7},{"x":19,"y":4,"v":6},
{"x":0,"y":5,"v":10},{"x":1,"y":5,"v":9},{"x":2,"y":5,"v":8},{"x":3,"y":5,"v":7},{"x":4,"y":5,"v":7},{"x":5,"y":5,"v":6},{"x":6,"y":5,"v":5},{"x":7,"y":5,"v":4},{"x":8,"y":5,"v":3},{"x":9,"y":5,"v":3},{"x":10,"y":5,"v":2},{"x":11,"y":5,"v":2},{"x":12,"y":5,"v":2},{"x":13,"y":5,"v":3},{"x":14,"y":5,"v":4},{"x":15,"y":5,"v":5},{"x":16,"y":5,"v":5},{"x":17,"y":5,"v":6},{"x":18,"y":5,"v":6},{"x":19,"y":5,"v":6},
{"x":0,"y":6,"v":10},{"x":1,"y":6,"v":9},{"x":2,"y":6,"v":8},{"x":3,"y":6,"v":7},{"x":4,"y":6,"v":6},{"x":5,"y":6,"v":6},{"x":6,"y":6,"v":5},{"x":7,"y":6,"v":4},{"x":8,"y":6,"v":3},{"x":9,"y":6,"v":3},{"x":10,"y":6,"v":2},{"x":11,"y":6,"v":2},{"x":12,"y":6,"v":2},{"x":13,"y":6,"v":3},{"x":14,"y":6,"v":4},{"x":15,"y":6,"v":4},{"x":16,"y":6,"v":5},{"x":17,"y":6,"v":6},{"x":18,"y":6,"v":6},{"x":19,"y":6,"v":6},
{"x":0,"y":7,"v":10},{"x":1,"y":7,"v":9},{"x":2,"y":7,"v":8},{"x":3,"y":7,"v":7},{"x":4,"y":7,"v":6},{"x":5,"y":7,"v":5},{"x":6,"y":7,"v":5},{"x":7,"y":7,"v":4},{"x":8,"y":7,"v":3},{"x":9,"y":7,"v":3},{"x":10,"y":7,"v":2},{"x":11,"y":7,"v":2},{"x":12,"y":7,"v":2},{"x":13,"y":7,"v":3},{"x":14,"y":7,"v":3},{"x":15,"y":7,"v":4},{"x":16,"y":7,"v":5},{"x":17,"y":7,"v":5},{"x":18,"y":7,"v":6},{"x":19,"y":7,"v":6},
{"x":0,"y":8,"v":9},{"x":1,"y":8,"v":8},{"x":2,"y":8,"v":8},{"x":3,"y":8,"v":7},{"x":4,"y":8,"v":6},{"x":5,"y":8,"v":5},{"x":6,"y":8,"v":5},{"x":7,"y":8,"v":4},{"x":8,"y":8,"v":3},{"x":9,"y":8,"v":3},{"x":10,"y":8,"v":2},{"x":11,"y":8,"v":1},{"x":12,"y":8,"v":2},{"x":13,"y":8,"v":2},{"x":14,"y":8,"v":3},{"x":15,"y":8,"v":4},{"x":16,"y":8,"v":4},{"x":17,"y":8,"v":5},{"x":18,"y":8,"v":6},{"x":19,"y":8,"v":6},
{"x":0,"y":9,"v":9},{"x":1,"y":9,"v":8},{"x":2,"y":9,"v":8},{"x":3,"y":9,"v":7},{"x":4,"y":9,"v":6},{"x":5,"y":9,"v":5},{"x":6,"y":9,"v":5},{"x":7,"y":9,"v":4},{"x":8,"y":9,"v":3},{"x":9,"y":9,"v":2},{"x":10,"y":9,"v":2},{"x":11,"y":9,"v":1},{"x":12,"y":9,"v":2},{"x":13,"y":9,"v":2},{"x":14,"y":9,"v":3},{"x":15,"y":9,"v":4},{"x":16,"y":9,"v":4},{"x":17,"y":9,"v":5},{"x":18,"y":9,"v":6},{"x":19,"y":9,"v":6},
{"x":0,"y":10,"v":9},{"x":1,"y":10,"v":8},{"x":2,"y":10,"v":7},{"x":3,"y":10,"v":7},{"x":4,"y":10,"v":6},{"x":5,"y":10,"v":5},{"x":6,"y":10,"v":4},{"x":7,"y":10,"v":4},{"x":8,"y":10,"v":3},{"x":9,"y":10,"v":2},{"x":10,"y":10,"v":1},{"x":11,"y":10,"v":1},{"x":12,"y":10,"v":2},{"x":13,"y":10,"v":2},{"x":14,"y":10,"v":3},{"x":15,"y":10,"v":3},{"x":16,"y":10,"v":4},{"x":17,"y":10,"v":5},{"x":18,"y":10,"v":5},{"x":19,"y":10,"v":6},
{"x":0,"y":11,"v":8},{"x":1,"y":11,"v":8},{"x":2,"y":11,"v":7},{"x":3,"y":11,"v":6},{"x":4,"y":11,"v":6},{"x":5,"y":11,"v":5},{"x":6,"y":11,"v":4},{"x":7,"y":11,"v":4},{"x":8,"y":11,"v":3},{"x":9,"y":11,"v":2},{"x":10,"y":11,"v":1},{"x":11,"y":11,"v":1},{"x":12,"y":11,"v":2},{"x":13,"y":11,"v":2},{"x":14,"y":11,"v":3},{"x":15,"y":11,"v":3},{"x":16,"y":11,"v":4},{"x":17,"y":11,"v":5},{"x":18,"y":11,"v":5},{"x":19,"y":11,"v":6},
{"x":0,"y":12,"v":8},{"x":1,"y":12,"v":8},{"x":2,"y":12,"v":7},{"x":3,"y":12,"v":6},{"x":4,"y":12,"v":6},{"x":5,"y":12,"v":5},{"x":6,"y":12,"v":4},{"x":7,"y":12,"v":3},{"x":8,"y":12,"v":3},{"x":9,"y":12,"v":2},{"x":10,"y":12,"v":1},{"x":11,"y":12,"v":1},{"x":12,"y":12,"v":1},{"x":13,"y":12,"v":2},{"x":14,"y":12,"v":3},{"x":15,"y":12,"v":3},{"x":16,"y":12,"v":4},{"x":17,"y":12,"v":5},{"x":18,"y":12,"v":5},{"x":19,"y":12,"v":5},
{"x":0,"y":13,"v":8},{"x":1,"y":13,"v":7},{"x":2,"y":13,"v":7},{"x":3,"y":13,"v":6},{"x":4,"y":13,"v":5},{"x":5,"y":13,"v":5},{"x":6,"y":13,"v":4},{"x":7,"y":13,"v":3},{"x":8,"y":13,"v":3},{"x":9,"y":13,"v":2},{"x":10,"y":13,"v":1},{"x":11,"y":13,"v":1},{"x":12,"y":13,"v":1},{"x":13,"y":13,"v":2},{"x":14,"y":13,"v":2},{"x":15,"y":13,"v":3},{"x":16,"y":13,"v":4},{"x":17,"y":13,"v":4},{"x":18,"y":13,"v":5},{"x":19,"y":13,"v":5},
{"x":0,"y":14,"v":8},{"x":1,"y":14,"v":7},{"x":2,"y":14,"v":7},{"x":3,"y":14,"v":6},{"x":4,"y":14,"v":5},{"x":5,"y":14,"v":5},{"x":6,"y":14,"v":4},{"x":7,"y":14,"v":3},{"x":8,"y":14,"v":3},{"x":9,"y":14,"v":2},{"x":10,"y":14,"v":1},{"x":11,"y":14,"v":1},{"x":12,"y":14,"v":1},{"x":13,"y":14,"v":2},{"x":14,"y":14,"v":2},{"x":15,"y":14,"v":3},{"x":16,"y":14,"v":3},{"x":17,"y":14,"v":4},{"x":18,"y":14,"v":5},{"x":19,"y":14,"v":5},
{"x":0,"y":15,"v":8},{"x":1,"y":15,"v":7},{"x":2,"y":15,"v":6},{"x":3,"y":15,"v":6},{"x":4,"y":15,"v":5},{"x":5,"y":15,"v":5},{"x":6,"y":15,"v":4},{"x":7,"y":15,"v":3},{"x":8,"y":15,"v":2},{"x":9,"y":15,"v":2},{"x":10,"y":15,"v":1},{"x":11,"y":15,"v":1},{"x":12,"y":15,"v":1},{"x":13,"y":15,"v":1},{"x":14,"y":15,"v":2},{"x":15,"y":15,"v":3},{"x":16,"y":15,"v":3},{"x":17,"y":15,"v":4},{"x":18,"y":15,"v":5},{"x":19,"y":15,"v":5},
{"x":0,"y":16,"v":7},{"x":1,"y":16,"v":7},{"x":2,"y":16,"v":6},{"x":3,"y":16,"v":6},{"x":4,"y":16,"v":5},{"x":5,"y":16,"v":4},{"x":6,"y":16,"v":4},{"x":7,"y":16,"v":3},{"x":8,"y":16,"v":2},{"x":9,"y":16,"v":1},{"x":10,"y":16,"v":1},{"x":11,"y":16,"v":1},{"x":12,"y":16,"v":1},{"x":13,"y":16,"v":1},{"x":14,"y":16,"v":2},{"x":15,"y":16,"v":2},{"x":16,"y":16,"v":3},{"x":17,"y":16,"v":4},{"x":18,"y":16,"v":4},{"x":19,"y":16,"v":5},
{"x":0,"y":17,"v":7},{"x":1,"y":17,"v":7},{"x":2,"y":17,"v":6},{"x":3,"y":17,"v":5},{"x":4,"y":17,"v":5},{"x":5,"y":17,"v":4},{"x":6,"y":17,"v":4},{"x":7,"y":17,"v":3},{"x":8,"y":17,"v":2},{"x":9,"y":17,"v":1},{"x":10,"y":17,"v":1},{"x":11,"y":17,"v":1},{"x":12,"y":17,"v":1},{"x":13,"y":17,"v":1},{"x":14,"y":17,"v":2},{"x":15,"y":17,"v":2},{"x":16,"y":17,"v":3},{"x":17,"y":17,"v":3},{"x":18,"y":17,"v":4},{"x":19,"y":17,"v":5},
{"x":0,"y":18,"v":7},{"x":1,"y":18,"v":7},{"x":2,"y":18,"v":6},{"x":3,"y":18,"v":5},{"x":4,"y":18,"v":5},{"x":5,"y":18,"v":4},{"x":6,"y":18,"v":3},{"x":7,"y":18,"v":3},{"x":8,"y":18,"v":2},{"x":9,"y":18,"v":1},{"x":10,"y":18,"v":1},{"x":11,"y":18,"v":1},{"x":12,"y":18,"v":1},{"x":13,"y":18,"v":1},{"x":14,"y":18,"v":2},{"x":15,"y":18,"v":2},{"x":16,"y":18,"v":3},{"x":17,"y":18,"v":3},{"x":18,"y":18,"v":4},{"x":19,"y":18,"v":4},
{"x":0,"y":19,"v":7},{"x":1,"y":19,"v":6},{"x":2,"y":19,"v":6},{"x":3,"y":19,"v":5},{"x":4,"y":19,"v":4},{"x":5,"y":19,"v":4},{"x":6,"y":19,"v":3},{"x":7,"y":19,"v":2},{"x":8,"y":19,"v":2},{"x":9,"y":19,"v":1},{"x":10,"y":19,"v":1},{"x":11,"y":19,"v":1},{"x":12,"y":19,"v":1},{"x":13,"y":19,"v":1},{"x":14,"y":19,"v":2},{"x":15,"y":19,"v":2},{"x":16,"y":19,"v":3},{"x":17,"y":19,"v":3},{"x":18,"y":19,"v":4},{"x":19,"y":19,"v":5}],
"l1":[{"band":1,"lo":78.8,"hi":85},{"band":2,"lo":85,"hi":91.2},{"band":3,"lo":91.2,"hi":97.4},{"band":4,"lo":97.4,"hi":104},{"band":5,"lo":104,"hi":110},{"band":6,"lo":110,"hi":116},{"band":7,"lo":116,"hi":122},{"band":8,"lo":122,"hi":128},{"band":9,"lo":128,"hi":135},{"band":10,"lo":135,"hi":141},{"band":11,"lo":141,"hi":147},{"band":12,"lo":147,"hi":153}],
"l2":[{"band":1,"lo":74.2,"hi":77.8},{"band":2,"lo":77.8,"hi":81.3},{"band":3,"lo":81.3,"hi":84.9},{"band":4,"lo":84.9,"hi":88.4},{"band":5,"lo":88.4,"hi":92},{"band":6,"lo":92,"hi":95.6},{"band":7,"lo":95.6,"hi":99},{"band":8,"lo":99,"hi":103},{"band":9,"lo":103,"hi":106},{"band":10,"lo":106,"hi":110},{"band":11,"lo":110,"hi":113},{"band":12,"lo":113,"hi":117}],
"l3":[{"band":1,"lo":97.1,"hi":102},{"band":2,"lo":102,"hi":107},{"band":3,"lo":107,"hi":111},{"band":4,"lo":111,"hi":116},{"band":5,"lo":116,"hi":121},{"band":6,"lo":121,"hi":126},{"band":7,"lo":126,"hi":131},{"band":8,"lo":131,"hi":136},{"band":9,"lo":136,"hi":140},{"band":10,"lo":140,"hi":146},{"band":11,"lo":146,"hi":150},{"band":12,"lo":150,"hi":154}],
"l4":[{"band":1,"lo":35.8,"hi":59},{"band":2,"lo":59,"hi":82.2},{"band":3,"lo":82.2,"hi":106},{"band":4,"lo":106,"hi":129},{"band":5,"lo":129,"hi":152},{"band":6,"lo":152,"hi":175},{"band":7,"lo":175,"hi":198},{"band":8,"lo":198,"hi":221},{"band":9,"lo":221,"hi":244},{"band":10,"lo":244,"hi":268},{"band":11,"lo":268,"hi":291},{"band":12,"lo":291,"hi":314}],
"l5":[{"band":1,"lo":28.5,"hi":38.2},{"band":2,"lo":38.2,"hi":47.9},{"band":3,"lo":47.9,"hi":57.5},{"band":4,"lo":57.5,"hi":67.2},{"band":5,"lo":67.2,"hi":76.9},{"band":6,"lo":76.9,"hi":86.6},{"band":7,"lo":86.6,"hi":96.3},{"band":8,"lo":96.3,"hi":106},{"band":9,"lo":106,"hi":116},{"band":10,"lo":116,"hi":125},{"band":11,"lo":125,"hi":135},{"band":12,"lo":135,"hi":145}],
"l6":[{"band":1,"lo":112,"hi":138},{"band":2,"lo":138,"hi":164},{"band":3,"lo":164,"hi":190},{"band":4,"lo":190,"hi":216},{"band":5,"lo":216,"hi":242},{"band":6,"lo":242,"hi":268},{"band":7,"lo":268,"hi":294},{"band":8,"lo":294,"hi":321},{"band":9,"lo":321,"hi":347},{"band":10,"lo":347,"hi":373},{"band":11,"lo":373,"hi":399},{"band":12,"lo":399,"hi":426}],
"sa":[{"o":125.5,"p":154},{"o":133,"p":154},{"o":141,"p":154},{"o":159,"p":154},{"o":180.5,"p":154},{"o":182,"p":154},{"o":88,"p":115},{"o":98,"p":115},{"o":99.5,"p":115},{"o":101,"p":115},{"o":107.5,"p":115},{"o":109,"p":115},{"o":110,"p":115},{"o":111.5,"p":115},{"o":112.5,"p":115},{"o":113.5,"p":115},{"o":115,"p":115},{"o":116,"p":115},{"o":117,"p":115},{"o":118,"p":115},{"o":119.5,"p":115},{"o":120.5,"p":115},{"o":121.5,"p":115},{"o":123,"p":115},{"o":132,"p":115},{"o":133.5,"p":115},{"o":143,"p":115},{"o":93,"p":102},{"o":99,"p":102},{"o":101.5,"p":102},{"o":107.5,"p":102},{"o":77.5,"p":97},{"o":88,"p":97},{"o":97,"p":97},{"o":101,"p":97},{"o":107,"p":97},{"o":109.5,"p":97},{"o":76.5,"p":86},{"o":80.5,"p":86},{"o":86,"p":86},{"o":88,"p":86},{"o":98.5,"p":86},{"o":80.5,"p":82},{"o":81.5,"p":82},{"o":83,"p":82},{"o":58,"p":68},{"o":66,"p":68},{"o":67.5,"p":68},{"o":69,"p":68},{"o":76,"p":68}],
"sb":[{"o":68,"p":68},{"o":82,"p":82},{"o":86,"p":86},{"o":97,"p":97},{"o":102,"p":102},{"o":115,"p":115},{"o":154,"p":154}],
"diag":[{"o":50,"p":50},{"o":200,"p":200}],
"frame":[{"f":"frame"}],
"guide":[{"h":"axis","v":"axis"}]
},
"resolve":{"scale":{"x":"independent","y":"independent"}},
"layer":[
{"data":{"name":"frame"},"mark":{"type":"rect","fill":null,"stroke":"#b5b5b5","strokeWidth":1.3},"encoding":{"x":{"field":"f","type":"nominal","scale":{"type":"band","range":[109.5,347],"paddingInner":0,"paddingOuter":0},"axis":{"orient":"bottom","offset":-663,"domain":false,"ticks":false,"labels":false,"title":"(a)","titleFont":"Liberation Serif","titleFontSize":14,"titleFontWeight":"bold","titleColor":"#24568f","titleY":15,"titleBaseline":"middle"}},"y":{"field":"f","type":"nominal","scale":{"type":"band","range":[5,149],"paddingInner":0,"paddingOuter":0},"axis":null}}},
{"data":{"name":"diag"},"mark":{"type":"line","color":"#f5a3a3","strokeWidth":1},"encoding":{"x":{"field":"o","type":"quantitative","scale":{"domain":[50,200],"range":[153,333],"nice":false,"zero":false},"axis":null},"y":{"field":"p","type":"quantitative","scale":{"domain":[50,200],"range":[110,14],"nice":false,"zero":false},"axis":null}}},
{"data":{"name":"sa"},"mark":{"type":"circle","size":3,"color":"#3a6fc4","opacity":1},"encoding":{"x":{"field":"o","type":"quantitative","scale":{"domain":[50,200],"range":[153,333],"nice":false,"zero":false},"axis":{"orient":"bottom","offset":-702,"values":[50,100,150,200],"labelFlush":false,"title":"original data","titleFont":"Liberation Sans","titleFontSize":8,"titleFontWeight":"bold","titleColor":"#333","titlePadding":4,"labelFont":"Liberation Sans","labelFontSize":8.4,"labelColor":"#444","labelPadding":5,"tickSize":2,"tickColor":"#aaa","domainColor":"#aaa"}},"y":{"field":"p","type":"quantitative","scale":{"domain":[50,200],"range":[110,14],"nice":false,"zero":false},"axis":{"orient":"left","offset":-153,"values":[50,70,90,110,130,150,170,190],"labelFlush":false,"title":"predicted data","titleFont":"Liberation Sans","titleFontSize":8,"titleFontWeight":"bold","titleColor":"#333","titlePadding":3,"labelFont":"Liberation Sans","labelFontSize":8.4,"labelColor":"#444","labelPadding":6,"tickSize":2,"tickColor":"#aaa","domainColor":"#aaa"}}}},
{"data":{"name":"frame"},"mark":{"type":"rect","fill":null,"stroke":"#b5b5b5","strokeWidth":1.3},"encoding":{"x":{"field":"f","type":"nominal","scale":{"type":"band","range":[389.5,628],"paddingInner":0,"paddingOuter":0},"axis":{"orient":"bottom","offset":-663,"domain":false,"ticks":false,"labels":false,"title":"(b)","titleFont":"Liberation Serif","titleFontSize":14,"titleFontWeight":"bold","titleColor":"#24568f","titleY":15,"titleBaseline":"middle"}},"y":{"field":"f","type":"nominal","scale":{"type":"band","range":[5,149],"paddingInner":0,"paddingOuter":0},"axis":null}}},
{"data":{"name":"diag"},"mark":{"type":"line","color":"#f5a3a3","strokeWidth":1},"encoding":{"x":{"field":"o","type":"quantitative","scale":{"domain":[50,200],"range":[434.3,614.3],"nice":false,"zero":false},"axis":null},"y":{"field":"p","type":"quantitative","scale":{"domain":[50,200],"range":[110,14],"nice":false,"zero":false},"axis":null}}},
{"data":{"name":"sb"},"mark":{"type":"circle","size":3,"color":"#3a6fc4","opacity":1},"encoding":{"x":{"field":"o","type":"quantitative","scale":{"domain":[50,200],"range":[434.3,614.3],"nice":false,"zero":false},"axis":{"orient":"bottom","offset":-702,"values":[50,100,150,200],"labelFlush":false,"title":"original data","titleFont":"Liberation Sans","titleFontSize":8,"titleFontWeight":"bold","titleColor":"#333","titlePadding":4,"labelFont":"Liberation Sans","labelFontSize":8.4,"labelColor":"#444","labelPadding":5,"tickSize":2,"tickColor":"#aaa","domainColor":"#aaa"}},"y":{"field":"p","type":"quantitative","scale":{"domain":[50,200],"range":[110,14],"nice":false,"zero":false},"axis":{"orient":"left","offset":-434.3,"values":[50,70,90,110,130,150,170,190],"labelFlush":false,"title":"predicted data","titleFont":"Liberation Sans","titleFontSize":8,"titleFontWeight":"bold","titleColor":"#333","titlePadding":3,"labelFont":"Liberation Sans","labelFontSize":8.4,"labelColor":"#444","labelPadding":6,"tickSize":2,"tickColor":"#aaa","domainColor":"#aaa"}}}},

{"data":{"name":"p1"},"mark":{"type":"point","shape":"M-1,-1L1,-1L1,1L-1,1ZM-1,-1L1,1","filled":true,"size":60.8,"stroke":"#151515","strokeWidth":0.6,"opacity":1},"encoding":{"x":{"field":"x","type":"quantitative","scale":{"domain":[-0.5,19.5],"range":[63.3,219.3],"nice":false,"zero":false},"axis":null},"y":{"field":"y","type":"quantitative","scale":{"domain":[-0.5,19.5],"range":[265,420.7],"nice":false,"zero":false},"axis":null},"fill":{"field":"v","type":"ordinal","scale":{"domain":[1,2,3,4,5,6,7,8,9,10,11,12],"range":["#0000ff","#0066ff","#00b0ff","#00ffff","#00ff99","#00ff33","#33ff00","#99ff00","#ffff00","#ffb000","#ff6600","#ff0000"]},"legend":null}}},
{"data":{"name":"frame"},"mark":{"type":"rect","fill":null,"stroke":"#8c8c8c","strokeWidth":1.3},"encoding":{"x":{"field":"f","type":"nominal","scale":{"type":"band","range":[-1,55.3],"paddingInner":0,"paddingOuter":0},"axis":null},"y":{"field":"f","type":"nominal","scale":{"type":"band","range":[197.7,322.7],"paddingInner":0,"paddingOuter":0},"axis":null}}},
{"data":{"name":"l1"},"mark":{"type":"rect","stroke":"#222","strokeWidth":0.5},"encoding":{"x":{"datum":"strip","type":"nominal","scale":{"type":"band","range":[0,14],"paddingInner":0,"paddingOuter":0},"axis":null},"y":{"field":"lo","type":"quantitative","scale":{"domain":[78.8,153],"range":[316.3,204.3],"nice":false,"zero":false},"axis":{"orient":"right","offset":-731,"values":[78.8,85,91.2,97.4,104,110,116,122,128,135,141,147,153],"labelExpr":"replace(format(datum.value,'.2e'),'e','E')","labelFlush":false,"labelOverlap":false,"title":null,"domain":false,"tickSize":3,"tickColor":"#333","labelFont":"Liberation Sans","labelFontSize":6.4,"labelColor":"#444","labelPadding":4.5}},"y2":{"field":"hi"},"fill":{"field":"band","type":"ordinal","scale":{"domain":[1,2,3,4,5,6,7,8,9,10,11,12]},"legend":null}}},
{"data":{"name":"guide"},"mark":{"type":"rect","opacity":0},"encoding":{"x":{"field":"h","type":"nominal","scale":{"type":"band","range":[26.7,139.3],"paddingInner":0,"paddingOuter":0},"axis":{"orient":"bottom","offset":-367.3,"ticks":false,"labels":false,"domainColor":"#222","domainWidth":1,"title":"diameter","titleFont":"DejaVu Sans","titleFontSize":14,"titleFontWeight":"normal","titleColor":"#222","titleX":104.5,"titleY":14.3,"titleBaseline":"middle"}},"y":{"field":"v","type":"nominal","scale":{"type":"band","range":[361.7,444.7],"paddingInner":0,"paddingOuter":0},"axis":{"orient":"left","offset":-26.7,"ticks":false,"labels":false,"domainColor":"#222","domainWidth":1,"title":"distance","titleFont":"DejaVu Sans","titleFontSize":14,"titleFontWeight":"normal","titleColor":"#222","titleX":-14,"titleY":391,"titleBaseline":"middle"}}}},

{"data":{"name":"p2"},"mark":{"type":"point","shape":"M-1,-1L1,-1L1,1L-1,1ZM-1,-1L1,1","filled":true,"size":59,"stroke":"#151515","strokeWidth":0.6,"opacity":1},"encoding":{"x":{"field":"x","type":"quantitative","scale":{"domain":[-0.5,19.5],"range":[294.7,448.3],"nice":false,"zero":false},"axis":null},"y":{"field":"y","type":"quantitative","scale":{"domain":[-0.5,19.5],"range":[263,416.7],"nice":false,"zero":false},"axis":null},"fill":{"field":"v","type":"ordinal","scale":{"domain":[1,2,3,4,5,6,7,8,9,10,11,12]},"legend":null}}},
{"data":{"name":"frame"},"mark":{"type":"rect","fill":null,"stroke":"#8c8c8c","strokeWidth":1.3},"encoding":{"x":{"field":"f","type":"nominal","scale":{"type":"band","range":[229.3,287.3],"paddingInner":0,"paddingOuter":0},"axis":null},"y":{"field":"f","type":"nominal","scale":{"type":"band","range":[197.3,320.7],"paddingInner":0,"paddingOuter":0},"axis":null}}},
{"data":{"name":"l2"},"mark":{"type":"rect","stroke":"#222","strokeWidth":0.5},"encoding":{"x":{"datum":"strip","type":"nominal","scale":{"type":"band","range":[233,246.7],"paddingInner":0,"paddingOuter":0},"axis":null},"y":{"field":"lo","type":"quantitative","scale":{"domain":[74.2,117],"range":[314,204.7],"nice":false,"zero":false},"axis":{"orient":"right","offset":-498.3,"values":[74.2,77.8,81.3,84.9,88.4,92,95.6,99,103,106,110,113,117],"labelExpr":"replace(format(datum.value,'.2e'),'e','E')","labelFlush":false,"labelOverlap":false,"title":null,"domain":false,"tickSize":3,"tickColor":"#333","labelFont":"Liberation Sans","labelFontSize":6.4,"labelColor":"#444","labelPadding":5}},"y2":{"field":"hi"},"fill":{"field":"band","type":"ordinal","scale":{"domain":[1,2,3,4,5,6,7,8,9,10,11,12]},"legend":null}}},
{"data":{"name":"guide"},"mark":{"type":"rect","opacity":0},"encoding":{"x":{"field":"h","type":"nominal","scale":{"type":"band","range":[265,377.7],"paddingInner":0,"paddingOuter":0},"axis":{"orient":"bottom","offset":-368.7,"ticks":false,"labels":false,"domainColor":"#222","domainWidth":1,"title":"diameter","titleFont":"DejaVu Sans","titleFontSize":14,"titleFontWeight":"normal","titleColor":"#222","titleX":345,"titleY":15,"titleBaseline":"middle"}},"y":{"field":"v","type":"nominal","scale":{"type":"band","range":[359.3,443.3],"paddingInner":0,"paddingOuter":0},"axis":{"orient":"left","offset":-265,"ticks":false,"labels":false,"domainColor":"#222","domainWidth":1,"title":"depth","titleFont":"DejaVu Sans","titleFontSize":14,"titleFontWeight":"normal","titleColor":"#222","titleX":-16,"titleY":380.7,"titleBaseline":"middle"}}}},

{"data":{"name":"p3"},"mark":{"type":"point","shape":"M-1,-1L1,-1L1,1L-1,1ZM-1,-1L1,1","filled":true,"size":59,"stroke":"#151515","strokeWidth":0.6,"opacity":1},"encoding":{"x":{"field":"x","type":"quantitative","scale":{"domain":[-0.5,19.5],"range":[523.3,677],"nice":false,"zero":false},"axis":{"orient":"top","offset":-263.7,"domain":false,"ticks":false,"labels":false,"title":"all data","titleFont":"DejaVu Sans","titleFontSize":21,"titleFontWeight":"normal","titleColor":"#222","titleX":692.7,"titleY":-53.7,"titleBaseline":"middle"}},"y":{"field":"y","type":"quantitative","scale":{"domain":[-0.5,19.5],"range":[263.7,416.3],"nice":false,"zero":false},"axis":null},"fill":{"field":"v","type":"ordinal","scale":{"domain":[1,2,3,4,5,6,7,8,9,10,11,12]},"legend":null}}},
{"data":{"name":"frame"},"mark":{"type":"rect","fill":null,"stroke":"#8c8c8c","strokeWidth":1.3},"encoding":{"x":{"field":"f","type":"nominal","scale":{"type":"band","range":[458.3,516],"paddingInner":0,"paddingOuter":0},"axis":null},"y":{"field":"f","type":"nominal","scale":{"type":"band","range":[197.3,320.7],"paddingInner":0,"paddingOuter":0},"axis":null}}},
{"data":{"name":"l3"},"mark":{"type":"rect","stroke":"#222","strokeWidth":0.5},"encoding":{"x":{"datum":"strip","type":"nominal","scale":{"type":"band","range":[461.3,475],"paddingInner":0,"paddingOuter":0},"axis":null},"y":{"field":"lo","type":"quantitative","scale":{"domain":[97.1,154],"range":[314,204.7],"nice":false,"zero":false},"axis":{"orient":"right","offset":-270,"values":[97.1,102,107,111,116,121,126,131,136,140,146,150,154],"labelExpr":"replace(format(datum.value,'.2e'),'e','E')","labelFlush":false,"labelOverlap":false,"title":null,"domain":false,"tickSize":3,"tickColor":"#333","labelFont":"Liberation Sans","labelFontSize":6.4,"labelColor":"#444","labelPadding":5}},"y2":{"field":"hi"},"fill":{"field":"band","type":"ordinal","scale":{"domain":[1,2,3,4,5,6,7,8,9,10,11,12]},"legend":null}}},
{"data":{"name":"guide"},"mark":{"type":"rect","opacity":0},"encoding":{"x":{"field":"h","type":"nominal","scale":{"type":"band","range":[496,609],"paddingInner":0,"paddingOuter":0},"axis":{"orient":"bottom","offset":-366,"ticks":false,"labels":false,"domainColor":"#222","domainWidth":1,"title":"distance","titleFont":"DejaVu Sans","titleFontSize":14,"titleFontWeight":"normal","titleColor":"#222","titleX":578,"titleY":15.7,"titleBaseline":"middle"}},"y":{"field":"v","type":"nominal","scale":{"type":"band","range":[362.7,446],"paddingInner":0,"paddingOuter":0},"axis":{"orient":"left","offset":-496,"ticks":false,"labels":false,"domainColor":"#222","domainWidth":1,"title":"depth","titleFont":"DejaVu Sans","titleFontSize":14,"titleFontWeight":"normal","titleColor":"#222","titleX":-16.3,"titleY":381.7,"titleBaseline":"middle"}}}},

{"data":{"name":"p4"},"mark":{"type":"point","shape":"M-1,-1L1,-1L1,1L-1,1ZM-1,-1L1,1","filled":true,"size":57.5,"stroke":"#151515","strokeWidth":0.6,"opacity":1},"encoding":{"x":{"field":"x","type":"quantitative","scale":{"domain":[-0.5,19.5],"range":[70.3,222],"nice":false,"zero":false},"axis":null},"y":{"field":"y","type":"quantitative","scale":{"domain":[-0.5,19.5],"range":[566,717.3],"nice":false,"zero":false},"axis":null},"fill":{"field":"v","type":"ordinal","scale":{"domain":[1,2,3,4,5,6,7,8,9,10,11,12]},"legend":null}}},
{"data":{"name":"frame"},"mark":{"type":"rect","fill":null,"stroke":"#8c8c8c","strokeWidth":1.3},"encoding":{"x":{"field":"f","type":"nominal","scale":{"type":"band","range":[5.7,63.3],"paddingInner":0,"paddingOuter":0},"axis":null},"y":{"field":"f","type":"nominal","scale":{"type":"band","range":[500.7,622.7],"paddingInner":0,"paddingOuter":0},"axis":null}}},
{"data":{"name":"l4"},"mark":{"type":"rect","stroke":"#222","strokeWidth":0.5},"encoding":{"x":{"datum":"strip","type":"nominal","scale":{"type":"band","range":[9,22.7],"paddingInner":0,"paddingOuter":0},"axis":null},"y":{"field":"lo","type":"quantitative","scale":{"domain":[35.8,314],"range":[616.3,507.7],"nice":false,"zero":false},"axis":{"orient":"right","offset":-722.3,"values":[35.8,59,82.2,106,129,152,175,198,221,244,268,291,314],"labelExpr":"replace(format(datum.value,'.2e'),'e','E')","labelFlush":false,"labelOverlap":false,"title":null,"domain":false,"tickSize":3,"tickColor":"#333","labelFont":"Liberation Sans","labelFontSize":6.4,"labelColor":"#444","labelPadding":5}},"y2":{"field":"hi"},"fill":{"field":"band","type":"ordinal","scale":{"domain":[1,2,3,4,5,6,7,8,9,10,11,12]},"legend":null}}},
{"data":{"name":"guide"},"mark":{"type":"rect","opacity":0},"encoding":{"x":{"field":"h","type":"nominal","scale":{"type":"band","range":[31,144],"paddingInner":0,"paddingOuter":0},"axis":{"orient":"bottom","offset":-71.3,"ticks":false,"labels":false,"domainColor":"#222","domainWidth":1,"title":"diameter","titleFont":"DejaVu Sans","titleFontSize":14,"titleFontWeight":"normal","titleColor":"#222","titleX":109,"titleY":14.3,"titleBaseline":"middle"}},"y":{"field":"v","type":"nominal","scale":{"type":"band","range":[657.7,740.7],"paddingInner":0,"paddingOuter":0},"axis":{"orient":"left","offset":-31,"ticks":false,"labels":false,"domainColor":"#222","domainWidth":1,"title":"distance","titleFont":"DejaVu Sans","titleFontSize":14,"titleFontWeight":"normal","titleColor":"#222","titleX":-14.3,"titleY":687.7,"titleBaseline":"middle"}}}},

{"data":{"name":"p5"},"mark":{"type":"point","shape":"M-1,-1L1,-1L1,1L-1,1ZM-1,-1L1,1","filled":true,"size":57.8,"stroke":"#151515","strokeWidth":0.6,"opacity":1},"encoding":{"x":{"field":"x","type":"quantitative","scale":{"domain":[-0.5,19.5],"range":[294,446],"nice":false,"zero":false},"axis":{"orient":"bottom","offset":-94.7,"domain":false,"ticks":false,"labels":false,"title":"(c)","titleFont":"Liberation Serif","titleFontSize":14,"titleFontWeight":"bold","titleColor":"#24568f","titleX":372,"titleY":83,"titleBaseline":"middle"}},"y":{"field":"y","type":"quantitative","scale":{"domain":[-0.5,19.5],"range":[565.7,717.3],"nice":false,"zero":false},"axis":null},"fill":{"field":"v","type":"ordinal","scale":{"domain":[1,2,3,4,5,6,7,8,9,10,11,12]},"legend":null}}},
{"data":{"name":"frame"},"mark":{"type":"rect","fill":null,"stroke":"#8c8c8c","strokeWidth":1.3},"encoding":{"x":{"field":"f","type":"nominal","scale":{"type":"band","range":[229.7,287.3],"paddingInner":0,"paddingOuter":0},"axis":null},"y":{"field":"f","type":"nominal","scale":{"type":"band","range":[500.3,622.7],"paddingInner":0,"paddingOuter":0},"axis":null}}},
{"data":{"name":"l5"},"mark":{"type":"rect","stroke":"#222","strokeWidth":0.5},"encoding":{"x":{"datum":"strip","type":"nominal","scale":{"type":"band","range":[232.7,246.7],"paddingInner":0,"paddingOuter":0},"axis":null},"y":{"field":"lo","type":"quantitative","scale":{"domain":[28.5,145],"range":[615.7,507.7],"nice":false,"zero":false},"axis":{"orient":"right","offset":-498.3,"values":[28.5,38.2,47.9,57.5,67.2,76.9,86.6,96.3,106,116,125,135,145],"labelExpr":"replace(format(datum.value,'.2e'),'e','E')","labelFlush":false,"labelOverlap":false,"title":null,"domain":false,"tickSize":3,"tickColor":"#333","labelFont":"Liberation Sans","labelFontSize":6.4,"labelColor":"#444","labelPadding":5}},"y2":{"field":"hi"},"fill":{"field":"band","type":"ordinal","scale":{"domain":[1,2,3,4,5,6,7,8,9,10,11,12]},"legend":null}}},
{"data":{"name":"guide"},"mark":{"type":"rect","opacity":0},"encoding":{"x":{"field":"h","type":"nominal","scale":{"type":"band","range":[269,381.7],"paddingInner":0,"paddingOuter":0},"axis":{"orient":"bottom","offset":-73,"ticks":false,"labels":false,"domainColor":"#222","domainWidth":1,"title":"diameter","titleFont":"DejaVu Sans","titleFontSize":14,"titleFontWeight":"normal","titleColor":"#222","titleX":349,"titleY":16,"titleBaseline":"middle"}},"y":{"field":"v","type":"nominal","scale":{"type":"band","range":[655.7,739],"paddingInner":0,"paddingOuter":0},"axis":{"orient":"left","offset":-269,"ticks":false,"labels":false,"domainColor":"#222","domainWidth":1,"title":"depth","titleFont":"DejaVu Sans","titleFontSize":14,"titleFontWeight":"normal","titleColor":"#222","titleX":-15,"titleY":676.3,"titleBaseline":"middle"}}}},

{"data":{"name":"p6"},"mark":{"type":"point","shape":"M-1,-1L1,-1L1,1L-1,1ZM-1,-1L1,1","filled":true,"size":57.8,"stroke":"#151515","strokeWidth":0.6,"opacity":1},"encoding":{"x":{"field":"x","type":"quantitative","scale":{"domain":[-0.5,19.5],"range":[525.7,677.7],"nice":false,"zero":false},"axis":{"orient":"top","offset":-565.3,"domain":false,"ticks":false,"labels":false,"title":"mean data","titleFont":"DejaVu Sans","titleFontSize":21.5,"titleFontWeight":"normal","titleColor":"#222","titleX":683,"titleY":-59.3,"titleBaseline":"middle"}},"y":{"field":"y","type":"quantitative","scale":{"domain":[-0.5,19.5],"range":[565.3,716.7],"nice":false,"zero":false},"axis":null},"fill":{"field":"v","type":"ordinal","scale":{"domain":[1,2,3,4,5,6,7,8,9,10,11,12]},"legend":null}}},
{"data":{"name":"frame"},"mark":{"type":"rect","fill":null,"stroke":"#8c8c8c","strokeWidth":1.3},"encoding":{"x":{"field":"f","type":"nominal","scale":{"type":"band","range":[461,518.3],"paddingInner":0,"paddingOuter":0},"axis":null},"y":{"field":"f","type":"nominal","scale":{"type":"band","range":[500.3,622.3],"paddingInner":0,"paddingOuter":0},"axis":null}}},
{"data":{"name":"l6"},"mark":{"type":"rect","stroke":"#222","strokeWidth":0.5},"encoding":{"x":{"datum":"strip","type":"nominal","scale":{"type":"band","range":[464.3,477.7],"paddingInner":0,"paddingOuter":0},"axis":null},"y":{"field":"lo","type":"quantitative","scale":{"domain":[112,426],"range":[616,507.3],"nice":false,"zero":false},"axis":{"orient":"right","offset":-267.3,"values":[112,138,164,190,216,242,268,294,321,347,373,399,426],"labelExpr":"replace(format(datum.value,'.2e'),'e','E')","labelFlush":false,"labelOverlap":false,"title":null,"domain":false,"tickSize":3,"tickColor":"#333","labelFont":"Liberation Sans","labelFontSize":6.4,"labelColor":"#444","labelPadding":5}},"y2":{"field":"hi"},"fill":{"field":"band","type":"ordinal","scale":{"domain":[1,2,3,4,5,6,7,8,9,10,11,12]},"legend":null}}},
{"data":{"name":"guide"},"mark":{"type":"rect","opacity":0},"encoding":{"x":{"field":"h","type":"nominal","scale":{"type":"band","range":[500.7,613.3],"paddingInner":0,"paddingOuter":0},"axis":{"orient":"bottom","offset":-71,"ticks":false,"labels":false,"domainColor":"#222","domainWidth":1,"title":"distance","titleFont":"DejaVu Sans","titleFontSize":14,"titleFontWeight":"normal","titleColor":"#222","titleX":582,"titleY":16.7,"titleBaseline":"middle"}},"y":{"field":"v","type":"nominal","scale":{"type":"band","range":[658.3,741],"paddingInner":0,"paddingOuter":0},"axis":{"orient":"left","offset":-500.7,"ticks":false,"labels":false,"domainColor":"#222","domainWidth":1,"title":"depth","titleFont":"DejaVu Sans","titleFontSize":14,"titleFontWeight":"normal","titleColor":"#222","titleX":-16.7,"titleY":677.7,"titleBaseline":"middle"}}}}
]}
